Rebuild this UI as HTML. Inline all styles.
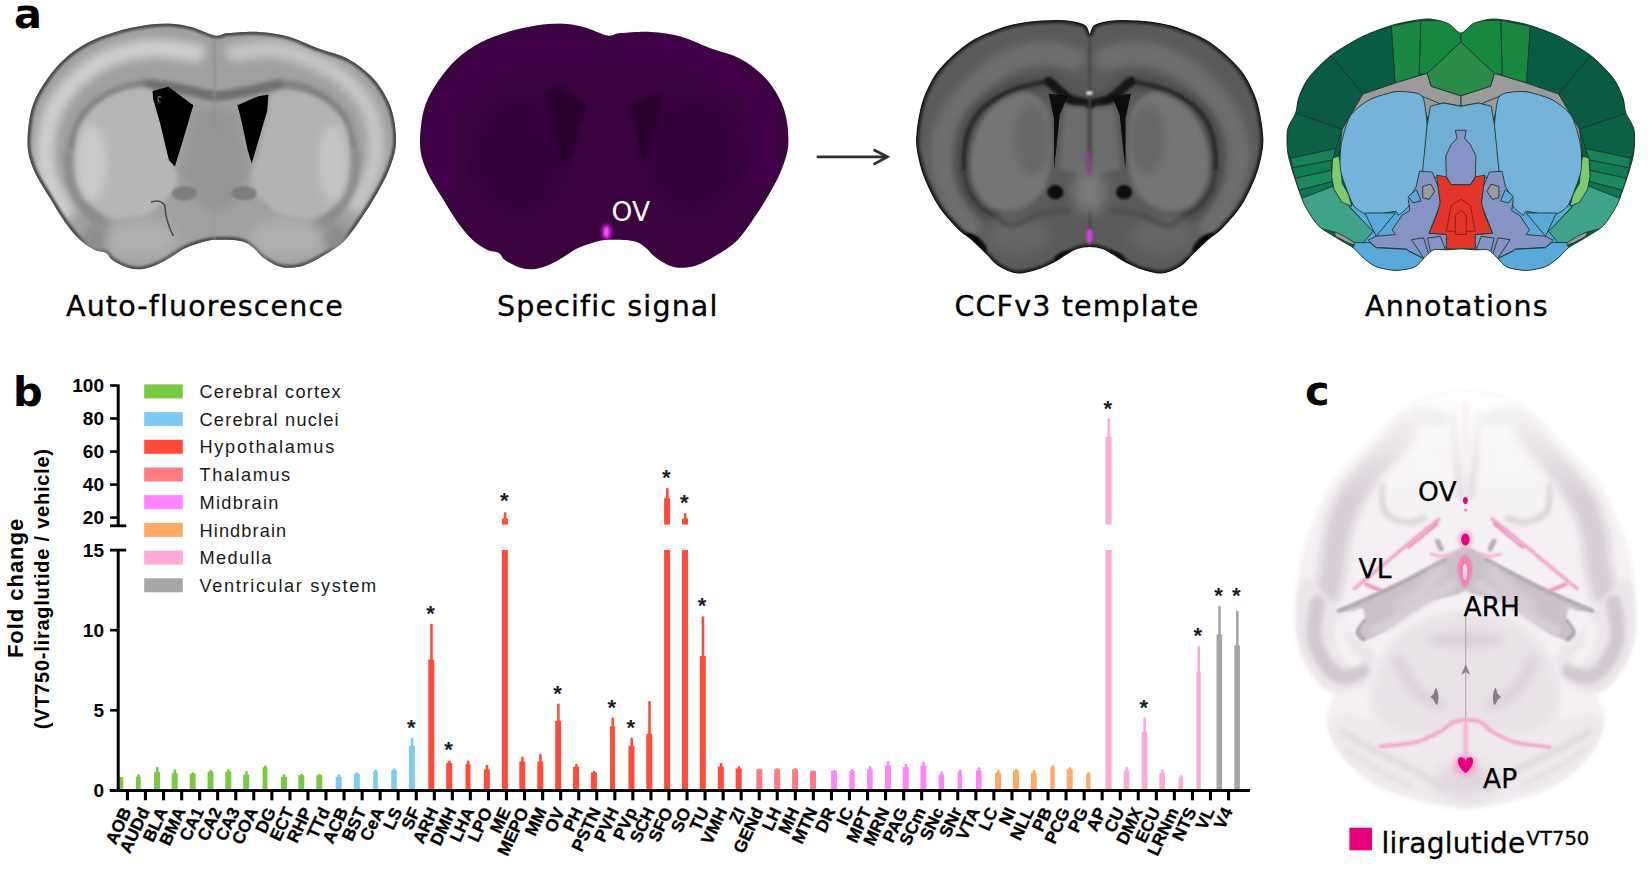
<!DOCTYPE html><html><head><meta charset="utf-8"><title>Figure</title><style>
html,body{margin:0;padding:0;background:#fff;}
body{width:1650px;height:873px;overflow:hidden;position:relative;}
svg{position:absolute;left:0;top:0;}
text{font-family:"Liberation Sans",Arial,sans-serif;fill:#000;}
.dv{font-family:"DejaVu Sans","Liberation Sans",sans-serif;}
.pl{font-family:"DejaVu Sans","Liberation Sans",sans-serif;font-weight:bold;font-size:41.5px;}
.cap{font-family:"DejaVu Sans","Liberation Sans",sans-serif;font-size:28.5px;letter-spacing:1.15px;stroke:#000;stroke-width:0.35px;}
.ann{font-family:"DejaVu Sans","Liberation Sans",sans-serif;font-size:26.5px;stroke:#000;stroke-width:0.25px;}
.yt{font-weight:bold;font-size:19px;text-anchor:end;}
.xl{font-weight:bold;font-size:17.3px;text-anchor:end;stroke:#000;stroke-width:0.3px;}
.st{font-size:22px;font-weight:bold;text-anchor:middle;fill:#1c1c1c;}
.lg{font-size:18.2px;letter-spacing:1.1px;fill:#1a1a1a;}
.yl1{font-weight:bold;font-size:22px;letter-spacing:0.97px;text-anchor:middle;}
.yl2{font-weight:bold;font-size:20px;letter-spacing:0.76px;text-anchor:middle;}
</style></head><body>
<svg width="1650" height="873" viewBox="0 0 1650 873">
<defs>
<filter id="b1" filterUnits="userSpaceOnUse" x="-200" y="-200" width="2400" height="1600"><feGaussianBlur stdDeviation="1.2"/></filter>
<filter id="b4" filterUnits="userSpaceOnUse" x="-200" y="-200" width="2400" height="1600"><feGaussianBlur stdDeviation="4"/></filter>
<filter id="b8" filterUnits="userSpaceOnUse" x="-200" y="-200" width="2400" height="1600"><feGaussianBlur stdDeviation="8"/></filter>
<filter id="b14" filterUnits="userSpaceOnUse" x="-200" y="-200" width="2400" height="1600"><feGaussianBlur stdDeviation="14"/></filter>
<filter id="b22" filterUnits="userSpaceOnUse" x="-200" y="-200" width="2400" height="1600"><feGaussianBlur stdDeviation="22"/></filter>
<filter id="fc1" filterUnits="userSpaceOnUse" x="-200" y="-200" width="2400" height="1600"><feGaussianBlur stdDeviation="0.6"/></filter>
<filter id="fc2" filterUnits="userSpaceOnUse" x="-200" y="-200" width="2400" height="1600"><feGaussianBlur stdDeviation="1.2"/></filter>
<filter id="fc3" filterUnits="userSpaceOnUse" x="-200" y="-200" width="2400" height="1600"><feGaussianBlur stdDeviation="2.5"/></filter>
<filter id="fc5" filterUnits="userSpaceOnUse" x="-200" y="-200" width="2400" height="1600"><feGaussianBlur stdDeviation="5"/></filter>
<filter id="fc6" filterUnits="userSpaceOnUse" x="-200" y="-200" width="2400" height="1600"><feGaussianBlur stdDeviation="7"/></filter>
</defs>
<g transform="translate(20,20) scale(0.29784)">
<clipPath id="c1"><path d="M655.0,52.0C675.0,55.2 675.8,46.0 700.0,44.0C724.2,42.0 766.7,38.2 800.0,40.0C833.3,41.8 866.7,45.8 900.0,55.0C933.3,64.2 966.7,82.5 1000.0,95.0C1033.3,107.5 1070.0,114.2 1100.0,130.0C1130.0,145.8 1158.3,168.3 1180.0,190.0C1201.7,211.7 1217.5,236.7 1230.0,260.0C1242.5,283.3 1249.7,303.3 1255.0,330.0C1260.3,356.7 1264.5,391.7 1262.0,420.0C1259.5,448.3 1250.3,473.3 1240.0,500.0C1229.7,526.7 1215.0,553.3 1200.0,580.0C1185.0,606.7 1168.3,633.3 1150.0,660.0C1131.7,686.7 1111.7,718.3 1090.0,740.0C1068.3,761.7 1043.3,775.8 1020.0,790.0C996.7,804.2 973.3,818.3 950.0,825.0C926.7,831.7 901.7,834.2 880.0,830.0C858.3,825.8 836.7,811.3 820.0,800.0C803.3,788.7 793.3,771.7 780.0,762.0C766.7,752.3 760.0,746.0 740.0,742.0C720.0,738.0 680.0,737.7 660.0,738.0C640.0,738.3 636.7,739.7 620.0,744.0C603.3,748.3 576.7,756.8 560.0,764.0C543.3,771.2 535.0,778.2 520.0,787.0C505.0,795.8 488.3,808.7 470.0,817.0C451.7,825.3 428.3,834.7 410.0,837.0C391.7,839.3 376.7,836.2 360.0,831.0C343.3,825.8 321.7,814.2 310.0,806.0C298.3,797.8 300.0,787.8 290.0,782.0C280.0,776.2 265.0,778.5 250.0,771.0C235.0,763.5 216.7,752.7 200.0,737.0C183.3,721.3 166.7,700.3 150.0,677.0C133.3,653.7 116.7,624.5 100.0,597.0C83.3,569.5 62.2,538.2 50.0,512.0C37.8,485.8 30.7,465.3 27.0,440.0C23.3,414.7 25.0,386.7 28.0,360.0C31.0,333.3 34.7,306.7 45.0,280.0C55.3,253.3 72.5,225.0 90.0,200.0C107.5,175.0 126.7,150.8 150.0,130.0C173.3,109.2 201.7,90.0 230.0,75.0C258.3,60.0 288.3,49.5 320.0,40.0C351.7,30.5 390.0,22.7 420.0,18.0C450.0,13.3 473.3,10.8 500.0,12.0C526.7,13.2 554.2,18.3 580.0,25.0C605.8,31.7 635.0,48.8 655.0,52.0Z"/></clipPath>
<g clip-path="url(#c1)">
<rect x="0" y="0" width="1300" height="873" fill="#a0a0a0"/>
<path d="M150.0,640.0C141.7,623.3 110.8,575.0 100.0,540.0C89.2,505.0 82.5,470.0 85.0,430.0C87.5,390.0 95.8,340.0 115.0,300.0C134.2,260.0 165.8,220.0 200.0,190.0C234.2,160.0 278.3,135.8 320.0,120.0C361.7,104.2 405.0,96.7 450.0,95.0C495.0,93.3 566.7,107.5 590.0,110.0" fill="none" stroke="#cdcdcd" stroke-width="62" stroke-linecap="round" filter="url(#b14)"/>
<path d="M720.0,110.0C743.3,108.3 815.0,95.0 860.0,100.0C905.0,105.0 951.7,123.3 990.0,140.0C1028.3,156.7 1060.8,175.0 1090.0,200.0C1119.2,225.0 1147.5,256.7 1165.0,290.0C1182.5,323.3 1192.5,361.7 1195.0,400.0C1197.5,438.3 1190.8,483.3 1180.0,520.0C1169.2,556.7 1138.3,603.3 1130.0,620.0" fill="none" stroke="#c4c4c4" stroke-width="56" stroke-linecap="round" filter="url(#b14)"/>
<path d="M655.0,52.0C675.0,55.2 675.8,46.0 700.0,44.0C724.2,42.0 766.7,38.2 800.0,40.0C833.3,41.8 866.7,45.8 900.0,55.0C933.3,64.2 966.7,82.5 1000.0,95.0C1033.3,107.5 1070.0,114.2 1100.0,130.0C1130.0,145.8 1158.3,168.3 1180.0,190.0C1201.7,211.7 1217.5,236.7 1230.0,260.0C1242.5,283.3 1249.7,303.3 1255.0,330.0C1260.3,356.7 1264.5,391.7 1262.0,420.0C1259.5,448.3 1250.3,473.3 1240.0,500.0C1229.7,526.7 1215.0,553.3 1200.0,580.0C1185.0,606.7 1168.3,633.3 1150.0,660.0C1131.7,686.7 1111.7,718.3 1090.0,740.0C1068.3,761.7 1043.3,775.8 1020.0,790.0C996.7,804.2 973.3,818.3 950.0,825.0C926.7,831.7 901.7,834.2 880.0,830.0C858.3,825.8 836.7,811.3 820.0,800.0C803.3,788.7 793.3,771.7 780.0,762.0C766.7,752.3 760.0,746.0 740.0,742.0C720.0,738.0 680.0,737.7 660.0,738.0C640.0,738.3 636.7,739.7 620.0,744.0C603.3,748.3 576.7,756.8 560.0,764.0C543.3,771.2 535.0,778.2 520.0,787.0C505.0,795.8 488.3,808.7 470.0,817.0C451.7,825.3 428.3,834.7 410.0,837.0C391.7,839.3 376.7,836.2 360.0,831.0C343.3,825.8 321.7,814.2 310.0,806.0C298.3,797.8 300.0,787.8 290.0,782.0C280.0,776.2 265.0,778.5 250.0,771.0C235.0,763.5 216.7,752.7 200.0,737.0C183.3,721.3 166.7,700.3 150.0,677.0C133.3,653.7 116.7,624.5 100.0,597.0C83.3,569.5 62.2,538.2 50.0,512.0C37.8,485.8 30.7,465.3 27.0,440.0C23.3,414.7 25.0,386.7 28.0,360.0C31.0,333.3 34.7,306.7 45.0,280.0C55.3,253.3 72.5,225.0 90.0,200.0C107.5,175.0 126.7,150.8 150.0,130.0C173.3,109.2 201.7,90.0 230.0,75.0C258.3,60.0 288.3,49.5 320.0,40.0C351.7,30.5 390.0,22.7 420.0,18.0C450.0,13.3 473.3,10.8 500.0,12.0C526.7,13.2 554.2,18.3 580.0,25.0C605.8,31.7 635.0,48.8 655.0,52.0Z" fill="none" stroke="#4c4c4c" stroke-width="20" filter="url(#b4)"/>
<path d="M170.0,440.0C176.7,420.8 188.3,356.3 210.0,325.0C231.7,293.7 265.0,270.3 300.0,252.0C335.0,233.7 376.7,217.8 420.0,215.0C463.3,212.2 520.8,228.3 560.0,235.0C599.2,241.7 621.7,254.2 655.0,255.0C688.3,255.8 722.5,246.7 760.0,240.0C797.5,233.3 840.0,213.3 880.0,215.0C920.0,216.7 965.8,231.7 1000.0,250.0C1034.2,268.3 1065.0,293.3 1085.0,325.0C1105.0,356.7 1114.2,420.8 1120.0,440.0" fill="none" stroke="#828282" stroke-width="30" filter="url(#b8)"/>
<path d="M420.0,215.0C443.3,218.3 520.8,228.3 560.0,235.0C599.2,241.7 621.7,254.2 655.0,255.0C688.3,255.8 722.5,246.7 760.0,240.0C797.5,233.3 860.0,219.2 880.0,215.0" fill="none" stroke="#6e6e6e" stroke-width="26" filter="url(#b8)"/>
<path d="M165.0,440.0C168.3,460.0 170.8,523.3 185.0,560.0C199.2,596.7 224.2,631.7 250.0,660.0C275.8,688.3 310.0,713.3 340.0,730.0C370.0,746.7 415.0,755.0 430.0,760.0" fill="none" stroke="#8c8c8c" stroke-width="44" filter="url(#b8)"/>
<path d="M1125.0,440.0C1121.7,460.0 1119.2,523.3 1105.0,560.0C1090.8,596.7 1065.8,631.7 1040.0,660.0C1014.2,688.3 980.0,713.3 950.0,730.0C920.0,746.7 875.0,755.0 860.0,760.0" fill="none" stroke="#8c8c8c" stroke-width="44" filter="url(#b8)"/>
<path d="M185.0,470.0C185.3,436.7 185.8,392.5 200.0,360.0C214.2,327.5 241.7,296.3 270.0,275.0C298.3,253.7 340.0,237.8 370.0,232.0C400.0,226.2 431.7,223.7 450.0,240.0C468.3,256.3 471.7,295.0 480.0,330.0C488.3,365.0 491.7,415.0 500.0,450.0C508.3,485.0 534.2,512.5 530.0,540.0C525.8,567.5 493.3,595.8 475.0,615.0C456.7,634.2 444.2,646.2 420.0,655.0C395.8,663.8 358.3,672.2 330.0,668.0C301.7,663.8 272.0,648.0 250.0,630.0C228.0,612.0 208.8,586.7 198.0,560.0C187.2,533.3 184.7,503.3 185.0,470.0Z" fill="#b6b6b6" filter="url(#b8)"/>
<path d="M1105.0,470.0C1105.0,436.7 1107.5,391.7 1095.0,360.0C1082.5,328.3 1057.5,300.0 1030.0,280.0C1002.5,260.0 960.0,245.0 930.0,240.0C900.0,235.0 867.5,235.0 850.0,250.0C832.5,265.0 833.3,296.7 825.0,330.0C816.7,363.3 809.2,415.0 800.0,450.0C790.8,485.0 765.8,512.5 770.0,540.0C774.2,567.5 806.7,595.8 825.0,615.0C843.3,634.2 855.8,646.2 880.0,655.0C904.2,663.8 941.7,672.2 970.0,668.0C998.3,663.8 1029.2,648.0 1050.0,630.0C1070.8,612.0 1085.8,586.7 1095.0,560.0C1104.2,533.3 1105.0,503.3 1105.0,470.0Z" fill="#b2b2b2" filter="url(#b8)"/>
<ellipse cx="240" cy="480" rx="50" ry="130" fill="#cacaca" filter="url(#b14)"/>
<ellipse cx="1050" cy="480" rx="50" ry="130" fill="#c4c4c4" filter="url(#b14)"/>
<ellipse cx="400" cy="735" rx="130" ry="65" fill="#b0b0b0" filter="url(#b22)"/>
<ellipse cx="900" cy="735" rx="130" ry="65" fill="#b0b0b0" filter="url(#b22)"/>
<ellipse cx="250" cy="740" rx="40" ry="50" fill="#8c8c8c" filter="url(#b14)"/>
<ellipse cx="1060" cy="730" rx="40" ry="50" fill="#8c8c8c" filter="url(#b14)"/>
<path d="M585,300 L725,300 L770,520 L700,640 L620,640 L540,520 Z" fill="#959595" filter="url(#b14)"/>
<rect x="650" y="60" width="6" height="300" fill="#8c8c8c" filter="url(#b4)"/>
<rect x="651" y="360" width="4" height="380" fill="#999" filter="url(#b4)"/>
<ellipse cx="552" cy="582" rx="42" ry="24" fill="#7e7e7e" filter="url(#b4)"/>
<ellipse cx="752" cy="582" rx="42" ry="24" fill="#7e7e7e" filter="url(#b4)"/>
<path d="M445,238 L498,224 L582,286 L548,400 L520,492 L500,470 L470,345 L447,265 Z" fill="#050505" filter="url(#b1)"/>
<path d="M730,286 L800,256 L834,250 L830,305 L802,400 L778,482 L765,440 L745,345 Z" fill="#050505" filter="url(#b1)"/>
<path d="M462,262 q4,-8 12,-2 m-10,4 q-2,10 8,12" fill="none" stroke="#777" stroke-width="4"/>
<path d="M440,612 Q470,600 486,622 Q490,680 515,725" fill="none" stroke="#484848" stroke-width="5" filter="url(#b1)"/>
</g></g>
<g transform="translate(412.5,20) scale(0.29784)">
<g clip-path="url(#c1)">
<rect x="0" y="0" width="1300" height="873" fill="#3b0441"/>
<path d="M120.0,560.0C115.8,538.3 95.0,473.3 95.0,430.0C95.0,386.7 102.5,340.0 120.0,300.0C137.5,260.0 166.7,220.0 200.0,190.0C233.3,160.0 278.3,135.8 320.0,120.0C361.7,104.2 406.7,96.7 450.0,95.0C493.3,93.3 558.3,107.5 580.0,110.0" fill="none" stroke="#45064b" stroke-width="80" stroke-linecap="round" filter="url(#b22)"/>
<path d="M730.0,110.0C751.7,108.3 816.7,95.0 860.0,100.0C903.3,105.0 951.7,123.3 990.0,140.0C1028.3,156.7 1061.7,175.0 1090.0,200.0C1118.3,225.0 1143.3,256.7 1160.0,290.0C1176.7,323.3 1188.3,361.7 1190.0,400.0C1191.7,438.3 1173.3,500.0 1170.0,520.0" fill="none" stroke="#45064b" stroke-width="80" stroke-linecap="round" filter="url(#b22)"/>
<ellipse cx="360" cy="450" rx="170" ry="210" fill="#36033c" filter="url(#b22)"/>
<ellipse cx="940" cy="450" rx="170" ry="210" fill="#36033c" filter="url(#b22)"/>
<path d="M445,238 L498,224 L582,286 L548,400 L520,492 L500,470 L470,345 L447,265 Z" fill="#28022c" filter="url(#b8)"/>
<path d="M730,286 L800,256 L834,250 L830,305 L802,400 L778,482 L765,440 L745,345 Z" fill="#28022c" filter="url(#b8)"/>
<ellipse cx="652" cy="712" rx="16" ry="26" fill="#c81fd0" filter="url(#b8)"/>
<ellipse cx="651" cy="712" rx="8" ry="17" fill="#ff4cff" filter="url(#b4)"/>
</g></g>
<g transform="translate(900,20) scale(0.29784)">
<clipPath id="k3"><path d="M637.0,48.0C643.0,48.0 641.2,25.5 655.0,18.0C668.8,10.5 695.8,5.3 720.0,3.0C744.2,0.7 775.0,2.5 800.0,4.0C825.0,5.5 846.7,7.7 870.0,12.0C893.3,16.3 911.7,19.3 940.0,30.0C968.3,40.7 1006.7,53.3 1040.0,76.0C1073.3,98.7 1115.3,137.0 1140.0,166.0C1164.7,195.0 1176.7,224.3 1188.0,250.0C1199.3,275.7 1203.0,295.0 1208.0,320.0C1213.0,345.0 1217.2,378.3 1218.0,400.0C1218.8,421.7 1217.3,429.0 1213.0,450.0C1208.7,471.0 1203.8,496.7 1192.0,526.0C1180.2,555.3 1161.0,596.8 1142.0,626.0C1123.0,655.2 1096.3,682.3 1078.0,701.0C1059.7,719.7 1048.0,723.8 1032.0,738.0C1016.0,752.2 997.3,771.3 982.0,786.0C966.7,800.7 957.0,815.5 940.0,826.0C923.0,836.5 900.8,847.2 880.0,849.0C859.2,850.8 834.2,842.5 815.0,837.0C795.8,831.5 781.7,824.5 765.0,816.0C748.3,807.5 729.2,794.2 715.0,786.0C700.8,777.8 693.0,771.3 680.0,767.0C667.0,762.7 651.3,760.0 637.0,760.0C622.7,760.0 607.0,762.7 594.0,767.0C581.0,771.3 573.2,777.8 559.0,786.0C544.8,794.2 525.7,807.5 509.0,816.0C492.3,824.5 478.2,831.5 459.0,837.0C439.8,842.5 414.8,850.8 394.0,849.0C373.2,847.2 351.0,836.5 334.0,826.0C317.0,815.5 307.3,800.7 292.0,786.0C276.7,771.3 258.0,752.2 242.0,738.0C226.0,723.8 214.3,719.7 196.0,701.0C177.7,682.3 151.0,655.2 132.0,626.0C113.0,596.8 93.8,555.3 82.0,526.0C70.2,496.7 65.3,471.0 61.0,450.0C56.7,429.0 55.2,421.7 56.0,400.0C56.8,378.3 61.0,345.0 66.0,320.0C71.0,295.0 74.7,275.7 86.0,250.0C97.3,224.3 109.3,195.0 134.0,166.0C158.7,137.0 200.7,98.7 234.0,76.0C267.3,53.3 305.7,40.7 334.0,30.0C362.3,19.3 380.7,16.3 404.0,12.0C427.3,7.7 449.0,5.5 474.0,4.0C499.0,2.5 529.8,0.7 554.0,3.0C578.2,5.3 605.2,10.5 619.0,18.0C632.8,25.5 631.0,48.0 637.0,48.0Z"/></clipPath>
<g clip-path="url(#k3)">
<rect x="0" y="0" width="1300" height="873" fill="#5a5a5a"/>
<path d="M690.0,130.0C708.3,126.7 760.0,106.7 800.0,110.0C840.0,113.3 890.0,128.3 930.0,150.0C970.0,171.7 1009.2,206.7 1040.0,240.0C1070.8,273.3 1099.2,311.7 1115.0,350.0C1130.8,388.3 1137.5,430.0 1135.0,470.0C1132.5,510.0 1115.8,553.3 1100.0,590.0C1084.2,626.7 1050.0,673.3 1040.0,690.0" fill="none" stroke="#6f6d6e" stroke-width="80" stroke-linecap="round" filter="url(#b14)"/>
<path d="M584.0,130.0C565.7,126.7 514.0,106.7 474.0,110.0C434.0,113.3 384.0,128.3 344.0,150.0C304.0,171.7 264.8,206.7 234.0,240.0C203.2,273.3 174.8,311.7 159.0,350.0C143.2,388.3 136.5,430.0 139.0,470.0C141.5,510.0 158.2,553.3 174.0,590.0C189.8,626.7 224.0,673.3 234.0,690.0" fill="none" stroke="#6f6d6e" stroke-width="80" stroke-linecap="round" filter="url(#b14)"/>
<path d="M637.0,48.0C643.0,48.0 641.2,25.5 655.0,18.0C668.8,10.5 695.8,5.3 720.0,3.0C744.2,0.7 775.0,2.5 800.0,4.0C825.0,5.5 846.7,7.7 870.0,12.0C893.3,16.3 911.7,19.3 940.0,30.0C968.3,40.7 1006.7,53.3 1040.0,76.0C1073.3,98.7 1115.3,137.0 1140.0,166.0C1164.7,195.0 1176.7,224.3 1188.0,250.0C1199.3,275.7 1203.0,295.0 1208.0,320.0C1213.0,345.0 1217.2,378.3 1218.0,400.0C1218.8,421.7 1217.3,429.0 1213.0,450.0C1208.7,471.0 1203.8,496.7 1192.0,526.0C1180.2,555.3 1161.0,596.8 1142.0,626.0C1123.0,655.2 1096.3,682.3 1078.0,701.0C1059.7,719.7 1048.0,723.8 1032.0,738.0C1016.0,752.2 997.3,771.3 982.0,786.0C966.7,800.7 957.0,815.5 940.0,826.0C923.0,836.5 900.8,847.2 880.0,849.0C859.2,850.8 834.2,842.5 815.0,837.0C795.8,831.5 781.7,824.5 765.0,816.0C748.3,807.5 729.2,794.2 715.0,786.0C700.8,777.8 693.0,771.3 680.0,767.0C667.0,762.7 651.3,760.0 637.0,760.0C622.7,760.0 607.0,762.7 594.0,767.0C581.0,771.3 573.2,777.8 559.0,786.0C544.8,794.2 525.7,807.5 509.0,816.0C492.3,824.5 478.2,831.5 459.0,837.0C439.8,842.5 414.8,850.8 394.0,849.0C373.2,847.2 351.0,836.5 334.0,826.0C317.0,815.5 307.3,800.7 292.0,786.0C276.7,771.3 258.0,752.2 242.0,738.0C226.0,723.8 214.3,719.7 196.0,701.0C177.7,682.3 151.0,655.2 132.0,626.0C113.0,596.8 93.8,555.3 82.0,526.0C70.2,496.7 65.3,471.0 61.0,450.0C56.7,429.0 55.2,421.7 56.0,400.0C56.8,378.3 61.0,345.0 66.0,320.0C71.0,295.0 74.7,275.7 86.0,250.0C97.3,224.3 109.3,195.0 134.0,166.0C158.7,137.0 200.7,98.7 234.0,76.0C267.3,53.3 305.7,40.7 334.0,30.0C362.3,19.3 380.7,16.3 404.0,12.0C427.3,7.7 449.0,5.5 474.0,4.0C499.0,2.5 529.8,0.7 554.0,3.0C578.2,5.3 605.2,10.5 619.0,18.0C632.8,25.5 631.0,48.0 637.0,48.0Z" fill="none" stroke="#262626" stroke-width="18" filter="url(#b4)"/>
<path d="M637.0,278.0C650.0,275.0 693.7,271.0 715.0,260.0C736.3,249.0 748.3,219.8 765.0,212.0C781.7,204.2 794.2,209.5 815.0,213.0C835.8,216.5 865.8,223.8 890.0,233.0C914.2,242.2 939.2,253.8 960.0,268.0C980.8,282.2 1000.8,300.2 1015.0,318.0C1029.2,335.8 1037.8,354.7 1045.0,375.0C1052.2,395.3 1055.5,418.3 1058.0,440.0C1060.5,461.7 1062.2,483.3 1060.0,505.0C1057.8,526.7 1055.0,549.2 1045.0,570.0C1035.0,590.8 1015.8,615.0 1000.0,630.0C984.2,645.0 958.3,655.0 950.0,660.0" fill="none" stroke="#4a4a4a" stroke-width="50" filter="url(#b14)"/>
<path d="M637.0,278.0C650.0,275.0 693.7,271.0 715.0,260.0C736.3,249.0 748.3,219.8 765.0,212.0C781.7,204.2 794.2,209.5 815.0,213.0C835.8,216.5 865.8,223.8 890.0,233.0C914.2,242.2 939.2,253.8 960.0,268.0C980.8,282.2 1000.8,300.2 1015.0,318.0C1029.2,335.8 1037.8,354.7 1045.0,375.0C1052.2,395.3 1055.5,418.3 1058.0,440.0C1060.5,461.7 1059.7,494.2 1060.0,505.0" fill="none" stroke="#2b2b2b" stroke-width="15" filter="url(#b4)"/>
<path d="M1060.0,505.0C1057.5,515.8 1055.0,549.2 1045.0,570.0C1035.0,590.8 1015.8,615.0 1000.0,630.0C984.2,645.0 958.3,655.0 950.0,660.0" fill="none" stroke="#3a3a3a" stroke-width="10" filter="url(#b4)"/>
<path d="M637.0,282.0C647.5,279.7 682.0,276.3 700.0,268.0C718.0,259.7 732.5,242.3 745.0,232.0C757.5,221.7 770.0,210.3 775.0,206.0" fill="none" stroke="#161616" stroke-width="30" stroke-linecap="round" filter="url(#b4)"/>
<path d="M785.0,290.0C798.3,272.0 824.2,244.5 850.0,242.0C875.8,239.5 915.0,258.7 940.0,275.0C965.0,291.3 984.2,312.5 1000.0,340.0C1015.8,367.5 1030.0,405.0 1035.0,440.0C1040.0,475.0 1040.8,518.3 1030.0,550.0C1019.2,581.7 996.7,615.8 970.0,630.0C943.3,644.2 900.0,645.0 870.0,635.0C840.0,625.0 807.5,600.8 790.0,570.0C772.5,539.2 768.3,486.7 765.0,450.0C761.7,413.3 766.7,376.7 770.0,350.0C773.3,323.3 771.7,308.0 785.0,290.0Z" fill="#747474" filter="url(#b8)"/>
<ellipse cx="830" cy="400" rx="60" ry="120" fill="#686868" filter="url(#b14)"/>
<path d="M645,290 L720,290 L740,500 L645,520 Z" fill="#6c6c6c" filter="url(#b8)"/>
<path d="M712,255 L775,248 L757,330 L757,500 L748,420 L738,320 Z" fill="#080808" filter="url(#b1)"/>
<ellipse cx="752" cy="578" rx="27" ry="24" fill="#0c0c0c" filter="url(#b4)"/>
<ellipse cx="1020" cy="748" rx="46" ry="20" fill="#060606" filter="url(#b4)" transform="rotate(-38 1020 748)"/>
<ellipse cx="728" cy="790" rx="30" ry="11" fill="#0a0a0a" filter="url(#b4)" transform="rotate(25 728 790)"/>
<ellipse cx="880" cy="725" rx="110" ry="60" fill="#666" filter="url(#b22)"/>
<path d="M700.0,640.0C716.7,641.7 766.7,641.7 800.0,650.0C833.3,658.3 873.3,690.0 900.0,690.0C926.7,690.0 950.0,656.7 960.0,650.0" fill="none" stroke="#4a4a4a" stroke-width="14" filter="url(#b8)"/>
<path d="M637.0,278.0C624.0,275.0 580.3,271.0 559.0,260.0C537.7,249.0 525.7,219.8 509.0,212.0C492.3,204.2 479.8,209.5 459.0,213.0C438.2,216.5 408.2,223.8 384.0,233.0C359.8,242.2 334.8,253.8 314.0,268.0C293.2,282.2 273.2,300.2 259.0,318.0C244.8,335.8 236.2,354.7 229.0,375.0C221.8,395.3 218.5,418.3 216.0,440.0C213.5,461.7 211.8,483.3 214.0,505.0C216.2,526.7 219.0,549.2 229.0,570.0C239.0,590.8 258.2,615.0 274.0,630.0C289.8,645.0 315.7,655.0 324.0,660.0" fill="none" stroke="#4a4a4a" stroke-width="50" filter="url(#b14)"/>
<path d="M637.0,278.0C624.0,275.0 580.3,271.0 559.0,260.0C537.7,249.0 525.7,219.8 509.0,212.0C492.3,204.2 479.8,209.5 459.0,213.0C438.2,216.5 408.2,223.8 384.0,233.0C359.8,242.2 334.8,253.8 314.0,268.0C293.2,282.2 273.2,300.2 259.0,318.0C244.8,335.8 236.2,354.7 229.0,375.0C221.8,395.3 218.5,418.3 216.0,440.0C213.5,461.7 214.3,494.2 214.0,505.0" fill="none" stroke="#2b2b2b" stroke-width="15" filter="url(#b4)"/>
<path d="M214.0,505.0C216.5,515.8 219.0,549.2 229.0,570.0C239.0,590.8 258.2,615.0 274.0,630.0C289.8,645.0 315.7,655.0 324.0,660.0" fill="none" stroke="#3a3a3a" stroke-width="10" filter="url(#b4)"/>
<path d="M637.0,282.0C626.5,279.7 592.0,276.3 574.0,268.0C556.0,259.7 541.5,242.3 529.0,232.0C516.5,221.7 504.0,210.3 499.0,206.0" fill="none" stroke="#161616" stroke-width="30" stroke-linecap="round" filter="url(#b4)"/>
<path d="M489.0,290.0C475.7,272.0 449.8,244.5 424.0,242.0C398.2,239.5 359.0,258.7 334.0,275.0C309.0,291.3 289.8,312.5 274.0,340.0C258.2,367.5 244.0,405.0 239.0,440.0C234.0,475.0 233.2,518.3 244.0,550.0C254.8,581.7 277.3,615.8 304.0,630.0C330.7,644.2 374.0,645.0 404.0,635.0C434.0,625.0 466.5,600.8 484.0,570.0C501.5,539.2 505.7,486.7 509.0,450.0C512.3,413.3 507.3,376.7 504.0,350.0C500.7,323.3 502.3,308.0 489.0,290.0Z" fill="#747474" filter="url(#b8)"/>
<ellipse cx="444" cy="400" rx="60" ry="120" fill="#686868" filter="url(#b14)"/>
<path d="M629,290 L554,290 L534,500 L629,520 Z" fill="#6c6c6c" filter="url(#b8)"/>
<path d="M562,255 L499,248 L517,330 L517,500 L526,420 L536,320 Z" fill="#080808" filter="url(#b1)"/>
<ellipse cx="522" cy="578" rx="27" ry="24" fill="#0c0c0c" filter="url(#b4)"/>
<ellipse cx="254" cy="748" rx="46" ry="20" fill="#060606" filter="url(#b4)" transform="rotate(38 254 748)"/>
<ellipse cx="546" cy="790" rx="30" ry="11" fill="#0a0a0a" filter="url(#b4)" transform="rotate(-25 546 790)"/>
<ellipse cx="394" cy="725" rx="110" ry="60" fill="#666" filter="url(#b22)"/>
<path d="M574.0,640.0C557.3,641.7 507.3,641.7 474.0,650.0C440.7,658.3 400.7,690.0 374.0,690.0C347.3,690.0 324.0,656.7 314.0,650.0" fill="none" stroke="#4a4a4a" stroke-width="14" filter="url(#b8)"/>
<rect x="633" y="40" width="8" height="740" fill="#444" filter="url(#b4)"/>
<ellipse cx="637" cy="575" rx="55" ry="75" fill="#7a7a7a" filter="url(#b22)"/>
<ellipse cx="636" cy="245" rx="11" ry="7" fill="#ddd" filter="url(#b4)"/>
<ellipse cx="634" cy="480" rx="9" ry="45" fill="#9a3ca0" opacity=".75" filter="url(#b8)"/>
<ellipse cx="636" cy="726" rx="10" ry="26" fill="#e23ce8" filter="url(#b4)"/>
</g>
<path d="M637.0,48.0C643.0,48.0 641.2,25.5 655.0,18.0C668.8,10.5 695.8,5.3 720.0,3.0C744.2,0.7 775.0,2.5 800.0,4.0C825.0,5.5 846.7,7.7 870.0,12.0C893.3,16.3 911.7,19.3 940.0,30.0C968.3,40.7 1006.7,53.3 1040.0,76.0C1073.3,98.7 1115.3,137.0 1140.0,166.0C1164.7,195.0 1176.7,224.3 1188.0,250.0C1199.3,275.7 1203.0,295.0 1208.0,320.0C1213.0,345.0 1217.2,378.3 1218.0,400.0C1218.8,421.7 1217.3,429.0 1213.0,450.0C1208.7,471.0 1203.8,496.7 1192.0,526.0C1180.2,555.3 1161.0,596.8 1142.0,626.0C1123.0,655.2 1096.3,682.3 1078.0,701.0C1059.7,719.7 1048.0,723.8 1032.0,738.0C1016.0,752.2 997.3,771.3 982.0,786.0C966.7,800.7 957.0,815.5 940.0,826.0C923.0,836.5 900.8,847.2 880.0,849.0C859.2,850.8 834.2,842.5 815.0,837.0C795.8,831.5 781.7,824.5 765.0,816.0C748.3,807.5 729.2,794.2 715.0,786.0C700.8,777.8 693.0,771.3 680.0,767.0C667.0,762.7 651.3,760.0 637.0,760.0C622.7,760.0 607.0,762.7 594.0,767.0C581.0,771.3 573.2,777.8 559.0,786.0C544.8,794.2 525.7,807.5 509.0,816.0C492.3,824.5 478.2,831.5 459.0,837.0C439.8,842.5 414.8,850.8 394.0,849.0C373.2,847.2 351.0,836.5 334.0,826.0C317.0,815.5 307.3,800.7 292.0,786.0C276.7,771.3 258.0,752.2 242.0,738.0C226.0,723.8 214.3,719.7 196.0,701.0C177.7,682.3 151.0,655.2 132.0,626.0C113.0,596.8 93.8,555.3 82.0,526.0C70.2,496.7 65.3,471.0 61.0,450.0C56.7,429.0 55.2,421.7 56.0,400.0C56.8,378.3 61.0,345.0 66.0,320.0C71.0,295.0 74.7,275.7 86.0,250.0C97.3,224.3 109.3,195.0 134.0,166.0C158.7,137.0 200.7,98.7 234.0,76.0C267.3,53.3 305.7,40.7 334.0,30.0C362.3,19.3 380.7,16.3 404.0,12.0C427.3,7.7 449.0,5.5 474.0,4.0C499.0,2.5 529.8,0.7 554.0,3.0C578.2,5.3 605.2,10.5 619.0,18.0C632.8,25.5 631.0,48.0 637.0,48.0Z" fill="none" stroke="#151515" stroke-width="4"/>
</g>
<g transform="translate(1270,10) scale(0.32068)" stroke="#1b382f" stroke-width="2.8" stroke-linejoin="round">
<clipPath id="c4"><path d="M595.0,72.0C605.7,72.0 621.0,47.9 635.0,42.0C649.0,36.1 678.0,27.6 700.0,28.0C722.0,28.4 773.3,37.8 800.0,45.0C826.7,52.2 873.3,69.1 900.0,82.0C926.7,94.9 977.3,124.7 1000.0,142.0C1022.7,159.3 1056.7,194.7 1070.0,212.0C1083.3,229.3 1094.7,257.3 1100.0,272.0C1105.3,286.7 1105.3,308.7 1110.0,322.0C1114.7,335.3 1131.7,356.0 1135.0,372.0C1138.3,388.0 1137.0,424.7 1135.0,442.0C1133.0,459.3 1124.7,486.0 1120.0,502.0C1115.3,518.0 1105.3,547.3 1100.0,562.0C1094.7,576.7 1088.0,597.3 1080.0,612.0C1072.0,626.7 1053.3,658.7 1040.0,672.0C1026.7,685.3 994.7,702.7 980.0,712.0C965.3,721.3 940.7,734.0 930.0,742.0C919.3,750.0 909.3,764.3 900.0,772.0C890.7,779.7 873.3,794.7 860.0,800.0C846.7,805.3 816.0,811.7 800.0,812.0C784.0,812.3 752.3,807.3 740.0,802.0C727.7,796.7 716.0,779.2 708.0,772.0C700.0,764.8 689.1,751.2 680.0,748.0C670.9,744.8 651.3,748.4 640.0,748.0C628.7,747.6 607.0,745.0 595.0,745.0C583.0,745.0 561.3,747.6 550.0,748.0C538.7,748.4 519.1,744.8 510.0,748.0C500.9,751.2 490.0,764.8 482.0,772.0C474.0,779.2 462.3,796.7 450.0,802.0C437.7,807.3 406.0,812.3 390.0,812.0C374.0,811.7 343.3,805.3 330.0,800.0C316.7,794.7 299.3,779.7 290.0,772.0C280.7,764.3 270.7,750.0 260.0,742.0C249.3,734.0 224.7,721.3 210.0,712.0C195.3,702.7 163.3,685.3 150.0,672.0C136.7,658.7 118.0,626.7 110.0,612.0C102.0,597.3 95.3,576.7 90.0,562.0C84.7,547.3 74.7,518.0 70.0,502.0C65.3,486.0 57.0,459.3 55.0,442.0C53.0,424.7 51.7,388.0 55.0,372.0C58.3,356.0 75.3,335.3 80.0,322.0C84.7,308.7 84.7,286.7 90.0,272.0C95.3,257.3 106.7,229.3 120.0,212.0C133.3,194.7 167.3,159.3 190.0,142.0C212.7,124.7 263.3,94.9 290.0,82.0C316.7,69.1 363.3,52.2 390.0,45.0C416.7,37.8 468.0,28.4 490.0,28.0C512.0,27.6 541.0,36.1 555.0,42.0C569.0,47.9 584.3,72.0 595.0,72.0Z"/></clipPath>
<g clip-path="url(#c4)">
<path d="M595.0,72.0C605.7,72.0 621.0,47.9 635.0,42.0C649.0,36.1 678.0,27.6 700.0,28.0C722.0,28.4 773.3,37.8 800.0,45.0C826.7,52.2 873.3,69.1 900.0,82.0C926.7,94.9 977.3,124.7 1000.0,142.0C1022.7,159.3 1056.7,194.7 1070.0,212.0C1083.3,229.3 1094.7,257.3 1100.0,272.0C1105.3,286.7 1105.3,308.7 1110.0,322.0C1114.7,335.3 1131.7,356.0 1135.0,372.0C1138.3,388.0 1137.0,424.7 1135.0,442.0C1133.0,459.3 1124.7,486.0 1120.0,502.0C1115.3,518.0 1105.3,547.3 1100.0,562.0C1094.7,576.7 1088.0,597.3 1080.0,612.0C1072.0,626.7 1053.3,658.7 1040.0,672.0C1026.7,685.3 994.7,702.7 980.0,712.0C965.3,721.3 940.7,734.0 930.0,742.0C919.3,750.0 909.3,764.3 900.0,772.0C890.7,779.7 873.3,794.7 860.0,800.0C846.7,805.3 816.0,811.7 800.0,812.0C784.0,812.3 752.3,807.3 740.0,802.0C727.7,796.7 716.0,779.2 708.0,772.0C700.0,764.8 689.1,751.2 680.0,748.0C670.9,744.8 651.3,748.4 640.0,748.0C628.7,747.6 607.0,745.0 595.0,745.0C583.0,745.0 561.3,747.6 550.0,748.0C538.7,748.4 519.1,744.8 510.0,748.0C500.9,751.2 490.0,764.8 482.0,772.0C474.0,779.2 462.3,796.7 450.0,802.0C437.7,807.3 406.0,812.3 390.0,812.0C374.0,811.7 343.3,805.3 330.0,800.0C316.7,794.7 299.3,779.7 290.0,772.0C280.7,764.3 270.7,750.0 260.0,742.0C249.3,734.0 224.7,721.3 210.0,712.0C195.3,702.7 163.3,685.3 150.0,672.0C136.7,658.7 118.0,626.7 110.0,612.0C102.0,597.3 95.3,576.7 90.0,562.0C84.7,547.3 74.7,518.0 70.0,502.0C65.3,486.0 57.0,459.3 55.0,442.0C53.0,424.7 51.7,388.0 55.0,372.0C58.3,356.0 75.3,335.3 80.0,322.0C84.7,308.7 84.7,286.7 90.0,272.0C95.3,257.3 106.7,229.3 120.0,212.0C133.3,194.7 167.3,159.3 190.0,142.0C212.7,124.7 263.3,94.9 290.0,82.0C316.7,69.1 363.3,52.2 390.0,45.0C416.7,37.8 468.0,28.4 490.0,28.0C512.0,27.6 541.0,36.1 555.0,42.0C569.0,47.9 584.3,72.0 595.0,72.0Z" fill="#0b5e45"/>
<path d="M595.0,68.0L630.0,33.0L720.0,33.0L725.0,200.0L700.0,200.0L595.0,100.0Z" fill="#17883f" />
<path d="M595.0,68.0L560.0,33.0L470.0,33.0L465.0,200.0L490.0,200.0L595.0,100.0Z" fill="#17883f" />
<path d="M720.0,33.0L812.0,50.0L800.0,228.0L725.0,205.0Z" fill="#1a8742" />
<path d="M470.0,33.0L378.0,50.0L390.0,228.0L465.0,205.0Z" fill="#1a8742" />
<path d="M595.0,100.0L700.0,198.0L688.0,238.0L595.0,268.0L502.0,238.0L490.0,198.0Z" fill="#2b8b47"/>
<path d="M812.0,50.0L905.0,82.0L1000.0,142.0L900.0,262.0L800.0,228.0Z" fill="#0a5d45" />
<path d="M378.0,50.0L285.0,82.0L190.0,142.0L290.0,262.0L390.0,228.0Z" fill="#0a5d45" />
<path d="M1000.0,142.0L1070.0,212.0L1100.0,272.0L1110.0,322.0L965.0,372.0L900.0,262.0Z" fill="#0b5b44" />
<path d="M190.0,142.0L120.0,212.0L90.0,272.0L80.0,322.0L225.0,372.0L290.0,262.0Z" fill="#0b5b44" />
<path d="M1110.0,322.0L1135.0,372.0L1135.0,442.0L1125.0,462.0L985.0,432.0L965.0,372.0Z" fill="#0d6147" />
<path d="M80.0,322.0L55.0,372.0L55.0,442.0L65.0,462.0L205.0,432.0L225.0,372.0Z" fill="#0d6147" />
<path d="M985.0,432.0L1125.0,462.0L1120.0,492.0L995.0,468.0Z" fill="#17835b" />
<path d="M205.0,432.0L65.0,462.0L70.0,492.0L195.0,468.0Z" fill="#17835b" />
<path d="M995.0,468.0L1120.0,492.0L1112.0,525.0L998.0,500.0Z" fill="#127a54" />
<path d="M195.0,468.0L70.0,492.0L78.0,525.0L192.0,500.0Z" fill="#127a54" />
<path d="M998.0,500.0L1112.0,525.0L1100.0,562.0L995.0,535.0Z" fill="#1a8a5e" />
<path d="M192.0,500.0L78.0,525.0L90.0,562.0L195.0,535.0Z" fill="#1a8a5e" />
<path d="M995.0,535.0L1100.0,562.0L1085.0,600.0L990.0,560.0Z" fill="#107550" />
<path d="M195.0,535.0L90.0,562.0L105.0,600.0L200.0,560.0Z" fill="#107550" />
<path d="M221.2,625.4L466.2,502.9L526.2,505.4L551.2,745.4L496.2,775.4L466.2,800.4L351.2,815.4L301.2,780.4L281.2,735.4L321.2,690.4L251.2,615.4Z" fill="#5ba8da" stroke="none"/>
<path d="M968.8,625.4L723.8,502.9L663.8,505.4L638.8,745.4L693.8,775.4L723.8,800.4L838.8,815.4L888.8,780.4L908.8,735.4L868.8,690.4L938.8,615.4Z" fill="#5ba8da" stroke="none"/>
<path d="M91.2,590.4L196.2,549.4L236.2,555.4L243.7,605.4L251.2,617.9L321.2,690.4L281.2,737.9L201.2,692.9L146.2,677.9L106.2,630.4L91.2,590.4Z" fill="#3ea389" />
<path d="M1098.8,590.4L993.8,549.4L953.8,555.4L946.3,605.4L938.8,617.9L868.8,690.4L908.8,737.9L988.8,692.9L1043.8,677.9L1083.8,630.4L1098.8,590.4Z" fill="#3ea389" />
<path d="M201.2,691.4L231.2,705.4L271.2,730.4L281.2,739.4L241.2,725.4L203.7,705.4Z" fill="#9b9b9b" />
<path d="M988.8,691.4L958.8,705.4L918.8,730.4L908.8,739.4L948.8,725.4L986.3,705.4Z" fill="#9b9b9b" />
<path d="M975.0,455.0L995.0,462.0L998.0,520.0L990.0,560.0L965.0,600.0L935.0,612.0L945.0,575.0L965.0,540.0L968.0,490.0Z" fill="#7dcb6e" />
<path d="M215.0,455.0L195.0,462.0L192.0,520.0L200.0,560.0L225.0,600.0L255.0,612.0L245.0,575.0L225.0,540.0L222.0,490.0Z" fill="#7dcb6e" />
<path d="M595.0,268.0L688.0,238.0L700.0,198.0L725.0,205.0L800.0,228.0L900.0,262.0L965.0,372.0L975.0,455.0L940.0,330.0L880.0,280.0L800.0,255.0L740.0,258.0L712.0,275.0L690.0,300.0L650.0,290.0L595.0,300.0Z" fill="#9b9b9b" />
<path d="M595.0,268.0L502.0,238.0L490.0,198.0L465.0,205.0L390.0,228.0L290.0,262.0L225.0,372.0L215.0,455.0L250.0,330.0L310.0,280.0L390.0,255.0L450.0,258.0L478.0,275.0L500.0,300.0L540.0,290.0L595.0,300.0Z" fill="#9b9b9b" />
<path d="M721.0,267.0L664.0,290.0L694.0,352.0Z" fill="#9b9b9b" />
<path d="M469.0,267.0L526.0,290.0L496.0,352.0Z" fill="#9b9b9b" />
<path d="M712.0,275.0C716.7,263.1 729.7,260.3 740.0,258.0C750.3,255.7 783.7,252.4 800.0,255.0C816.3,257.6 863.7,271.2 880.0,280.0C896.3,288.8 929.7,313.7 940.0,330.0C950.3,346.3 964.5,400.2 968.0,420.0C971.5,439.8 972.7,481.9 970.0,500.0C967.3,518.1 950.2,561.6 945.0,575.0C939.8,588.4 932.6,607.4 925.0,615.0C917.4,622.6 894.6,638.5 880.0,640.0C865.4,641.5 810.5,628.0 800.0,628.0C789.5,628.0 794.7,641.5 790.0,640.0C785.3,638.5 765.2,621.4 760.0,615.0C754.8,608.6 749.7,596.1 745.0,585.0C740.3,573.9 724.7,533.4 720.0,520.0C715.3,506.6 707.3,488.7 705.0,470.0C702.7,451.3 699.2,382.8 700.0,360.0C700.8,337.2 707.3,286.9 712.0,275.0Z" fill="#74b3da"/>
<path d="M478.0,275.0C473.3,263.1 460.3,260.3 450.0,258.0C439.7,255.7 406.3,252.4 390.0,255.0C373.7,257.6 326.3,271.2 310.0,280.0C293.7,288.8 260.3,313.7 250.0,330.0C239.7,346.3 225.5,400.2 222.0,420.0C218.5,439.8 217.3,481.9 220.0,500.0C222.7,518.1 239.8,561.6 245.0,575.0C250.2,588.4 257.4,607.4 265.0,615.0C272.6,622.6 295.4,638.5 310.0,640.0C324.6,641.5 379.5,628.0 390.0,628.0C400.5,628.0 395.3,641.5 400.0,640.0C404.7,638.5 424.8,621.4 430.0,615.0C435.2,608.6 440.3,596.1 445.0,585.0C449.7,573.9 465.3,533.4 470.0,520.0C474.7,506.6 482.7,488.7 485.0,470.0C487.3,451.3 490.8,382.8 490.0,360.0C489.2,337.2 482.7,286.9 478.0,275.0Z" fill="#74b3da"/>
<path d="M500.0,300.0L540.0,290.0L595.0,300.0L650.0,290.0L690.0,300.0L700.0,360.0L712.0,480.0L716.0,522.0L474.0,522.0L478.0,480.0L490.0,360.0Z" fill="#70aed4"/>
<path d="M466.2,502.9L506.2,505.4L526.2,555.4L531.2,605.4L496.2,695.4L551.2,700.4L551.2,740.4L501.2,755.4L481.2,775.4L431.2,750.4L426.2,745.4L331.2,740.4L306.2,717.9L331.2,705.4L391.2,700.4L381.2,685.4L411.2,640.4L436.2,625.4L431.2,590.4L456.2,550.4Z" fill="#8593c5" />
<path d="M723.8,502.9L683.8,505.4L663.8,555.4L658.8,605.4L693.8,695.4L638.8,700.4L638.8,740.4L688.8,755.4L708.8,775.4L758.8,750.4L763.8,745.4L858.8,740.4L883.8,717.9L858.8,705.4L798.8,700.4L808.8,685.4L778.8,640.4L753.8,625.4L758.8,590.4L733.8,550.4Z" fill="#8593c5" />
<path d="M296.2,632.9L391.2,632.9L331.2,705.4Z" fill="#5ba8da" />
<path d="M893.8,632.9L798.8,632.9L858.8,705.4Z" fill="#5ba8da" />
<path d="M266.2,725.4L311.2,725.4L331.2,741.4L426.2,746.4L431.2,751.4L481.2,776.4L466.2,805.4L351.2,825.4L281.2,795.4L251.2,755.4Z" fill="#5ba8da" />
<path d="M923.8,725.4L878.8,725.4L858.8,741.4L763.8,746.4L758.8,751.4L708.8,776.4L723.8,805.4L838.8,825.4L908.8,795.4L938.8,755.4Z" fill="#5ba8da" />
<path d="M476.2,550.4L501.2,542.9L513.7,565.4L496.2,590.4L476.2,585.4Z" fill="#9b9b9b" />
<path d="M713.8,550.4L688.8,542.9L676.3,565.4L693.8,590.4L713.8,585.4Z" fill="#9b9b9b" />
<path d="M431.2,581.4L456.2,560.4L471.2,595.4L446.2,601.4Z" fill="#5ea9da" />
<path d="M758.8,581.4L733.8,560.4L718.8,595.4L743.8,601.4Z" fill="#5ea9da" />
<path d="M441.2,716.4L478.7,710.4L496.2,765.4L481.2,776.4Z" fill="#8593c5" />
<path d="M748.8,716.4L711.3,710.4L693.8,765.4L708.8,776.4Z" fill="#8593c5" />
<path d="M491.2,711.4L531.2,705.4L546.2,745.4L501.2,755.4Z" fill="#8593c5" />
<path d="M698.8,711.4L658.8,705.4L643.8,745.4L688.8,755.4Z" fill="#8593c5" />
<path d="M578.0,375.0L612.0,375.0L607.0,400.0L625.0,420.0L642.0,455.0L640.0,520.0L625.0,545.0L565.0,545.0L550.0,520.0L548.0,455.0L565.0,420.0L583.0,400.0Z" fill="#8593c5"/>
<path d="M520.0,515.0L548.0,520.0L565.0,545.0L625.0,545.0L642.0,520.0L670.0,515.0L665.0,560.0L659.0,600.0L670.0,640.0L694.0,696.0L640.0,700.0L640.0,745.0L550.0,745.0L550.0,700.0L496.0,696.0L520.0,640.0L531.0,600.0L525.0,560.0Z" fill="#e4352b"/>
<path d="M595.0,590.0L625.0,610.0L640.0,690.0L550.0,690.0L565.0,610.0Z" fill="#e4352b" stroke="#8a1a14"/>
<path d="M595.0,625.0L612.0,640.0L612.0,700.0L578.0,700.0L578.0,640.0Z" fill="#e4352b" stroke="#8a1a14"/>
</g>
<path d="M595.0,72.0C605.7,72.0 621.0,47.9 635.0,42.0C649.0,36.1 678.0,27.6 700.0,28.0C722.0,28.4 773.3,37.8 800.0,45.0C826.7,52.2 873.3,69.1 900.0,82.0C926.7,94.9 977.3,124.7 1000.0,142.0C1022.7,159.3 1056.7,194.7 1070.0,212.0C1083.3,229.3 1094.7,257.3 1100.0,272.0C1105.3,286.7 1105.3,308.7 1110.0,322.0C1114.7,335.3 1131.7,356.0 1135.0,372.0C1138.3,388.0 1137.0,424.7 1135.0,442.0C1133.0,459.3 1124.7,486.0 1120.0,502.0C1115.3,518.0 1105.3,547.3 1100.0,562.0C1094.7,576.7 1088.0,597.3 1080.0,612.0C1072.0,626.7 1053.3,658.7 1040.0,672.0C1026.7,685.3 994.7,702.7 980.0,712.0C965.3,721.3 940.7,734.0 930.0,742.0C919.3,750.0 909.3,764.3 900.0,772.0C890.7,779.7 873.3,794.7 860.0,800.0C846.7,805.3 816.0,811.7 800.0,812.0C784.0,812.3 752.3,807.3 740.0,802.0C727.7,796.7 716.0,779.2 708.0,772.0C700.0,764.8 689.1,751.2 680.0,748.0C670.9,744.8 651.3,748.4 640.0,748.0C628.7,747.6 607.0,745.0 595.0,745.0C583.0,745.0 561.3,747.6 550.0,748.0C538.7,748.4 519.1,744.8 510.0,748.0C500.9,751.2 490.0,764.8 482.0,772.0C474.0,779.2 462.3,796.7 450.0,802.0C437.7,807.3 406.0,812.3 390.0,812.0C374.0,811.7 343.3,805.3 330.0,800.0C316.7,794.7 299.3,779.7 290.0,772.0C280.7,764.3 270.7,750.0 260.0,742.0C249.3,734.0 224.7,721.3 210.0,712.0C195.3,702.7 163.3,685.3 150.0,672.0C136.7,658.7 118.0,626.7 110.0,612.0C102.0,597.3 95.3,576.7 90.0,562.0C84.7,547.3 74.7,518.0 70.0,502.0C65.3,486.0 57.0,459.3 55.0,442.0C53.0,424.7 51.7,388.0 55.0,372.0C58.3,356.0 75.3,335.3 80.0,322.0C84.7,308.7 84.7,286.7 90.0,272.0C95.3,257.3 106.7,229.3 120.0,212.0C133.3,194.7 167.3,159.3 190.0,142.0C212.7,124.7 263.3,94.9 290.0,82.0C316.7,69.1 363.3,52.2 390.0,45.0C416.7,37.8 468.0,28.4 490.0,28.0C512.0,27.6 541.0,36.1 555.0,42.0C569.0,47.9 584.3,72.0 595.0,72.0Z" fill="none" stroke="#1d3d33" stroke-width="3"/>
</g>
<g>
<clipPath id="kC"><path d="M1466.4,392.1C1454.9,392.1 1442.5,394.0 1431.1,397.6C1419.8,401.3 1409.3,405.8 1398.4,414.0C1387.4,422.2 1376.3,435.8 1365.6,446.8C1354.9,457.8 1342.8,467.5 1334.0,480.0C1325.2,492.5 1318.7,507.8 1313.0,522.0C1307.3,536.2 1303.0,550.3 1300.0,565.0C1297.0,579.7 1295.5,597.5 1295.0,610.0C1294.5,622.5 1295.3,630.8 1297.0,640.0C1298.7,649.2 1301.2,657.5 1305.0,665.0C1308.8,672.5 1315.2,679.8 1320.0,685.0C1324.8,690.2 1332.8,691.5 1334.0,696.0C1335.2,700.5 1327.7,705.5 1327.0,712.0C1326.3,718.5 1327.0,727.0 1330.0,735.0C1333.0,743.0 1337.5,751.7 1345.0,760.0C1352.5,768.3 1363.3,778.3 1375.0,785.0C1386.7,791.7 1400.0,796.0 1415.0,800.0C1430.0,804.0 1448.3,808.9 1465.2,808.9C1482.1,808.9 1501.2,804.0 1516.4,800.0C1531.6,796.0 1544.7,791.7 1556.4,785.0C1568.1,778.3 1578.9,768.3 1586.4,760.0C1593.9,751.7 1598.4,743.0 1601.4,735.0C1604.4,727.0 1605.1,718.5 1604.4,712.0C1603.7,705.5 1596.2,700.5 1597.4,696.0C1598.6,691.5 1606.6,690.2 1611.4,685.0C1616.2,679.8 1622.6,672.5 1626.4,665.0C1630.2,657.5 1632.7,649.2 1634.4,640.0C1636.1,630.8 1636.9,622.5 1636.4,610.0C1635.9,597.5 1634.4,579.7 1631.4,565.0C1628.4,550.3 1624.1,536.2 1618.4,522.0C1612.7,507.8 1606.2,492.5 1597.4,480.0C1588.6,467.5 1576.5,457.8 1565.8,446.8C1555.1,435.8 1544.0,422.2 1533.0,414.0C1522.1,405.8 1511.4,401.3 1500.3,397.6C1489.2,394.0 1477.9,392.1 1466.4,392.1Z"/></clipPath>
<path d="M1466.4,392.1C1454.9,392.1 1442.5,394.0 1431.1,397.6C1419.8,401.3 1409.3,405.8 1398.4,414.0C1387.4,422.2 1376.3,435.8 1365.6,446.8C1354.9,457.8 1342.8,467.5 1334.0,480.0C1325.2,492.5 1318.7,507.8 1313.0,522.0C1307.3,536.2 1303.0,550.3 1300.0,565.0C1297.0,579.7 1295.5,597.5 1295.0,610.0C1294.5,622.5 1295.3,630.8 1297.0,640.0C1298.7,649.2 1301.2,657.5 1305.0,665.0C1308.8,672.5 1315.2,679.8 1320.0,685.0C1324.8,690.2 1332.8,691.5 1334.0,696.0C1335.2,700.5 1327.7,705.5 1327.0,712.0C1326.3,718.5 1327.0,727.0 1330.0,735.0C1333.0,743.0 1337.5,751.7 1345.0,760.0C1352.5,768.3 1363.3,778.3 1375.0,785.0C1386.7,791.7 1400.0,796.0 1415.0,800.0C1430.0,804.0 1448.3,808.9 1465.2,808.9C1482.1,808.9 1501.2,804.0 1516.4,800.0C1531.6,796.0 1544.7,791.7 1556.4,785.0C1568.1,778.3 1578.9,768.3 1586.4,760.0C1593.9,751.7 1598.4,743.0 1601.4,735.0C1604.4,727.0 1605.1,718.5 1604.4,712.0C1603.7,705.5 1596.2,700.5 1597.4,696.0C1598.6,691.5 1606.6,690.2 1611.4,685.0C1616.2,679.8 1622.6,672.5 1626.4,665.0C1630.2,657.5 1632.7,649.2 1634.4,640.0C1636.1,630.8 1636.9,622.5 1636.4,610.0C1635.9,597.5 1634.4,579.7 1631.4,565.0C1628.4,550.3 1624.1,536.2 1618.4,522.0C1612.7,507.8 1606.2,492.5 1597.4,480.0C1588.6,467.5 1576.5,457.8 1565.8,446.8C1555.1,435.8 1544.0,422.2 1533.0,414.0C1522.1,405.8 1511.4,401.3 1500.3,397.6C1489.2,394.0 1477.9,392.1 1466.4,392.1Z" fill="#f4f0f3" filter="url(#fc3)"/>
<g clip-path="url(#kC)">
<ellipse cx="1465.7" cy="392" rx="60" ry="22" fill="#fbf9fb" filter="url(#fc6)"/>
<path d="M1408.4,422.8C1405.5,427.0 1397.5,439.6 1390.8,448.0C1384.1,456.4 1375.1,464.4 1368.1,473.2C1361.2,482.1 1354.3,491.3 1349.2,501.0C1344.2,510.6 1340.6,520.3 1337.9,531.2C1335.2,542.1 1334.5,556.2 1332.8,566.5C1331.2,576.8 1328.6,588.4 1327.8,592.8" fill="none" stroke="#d8cfd6" stroke-width="26" stroke-linecap="round" filter="url(#fc5)"/>
<path d="M1523.0,422.8C1525.9,427.0 1533.9,439.6 1540.6,448.0C1547.3,456.4 1556.3,464.4 1563.3,473.2C1570.2,482.1 1577.1,491.3 1582.2,501.0C1587.2,510.6 1590.8,520.3 1593.5,531.2C1596.2,542.1 1596.9,556.2 1598.6,566.5C1600.2,576.8 1602.8,588.4 1603.6,592.8" fill="none" stroke="#d8cfd6" stroke-width="26" stroke-linecap="round" filter="url(#fc5)"/>
<path d="M1416.0,406.5C1421.0,405.2 1435.3,407.5 1441.2,410.2C1447.1,413.0 1453.0,420.3 1451.3,422.8C1449.6,425.4 1437.8,426.2 1431.1,425.4C1424.4,424.5 1413.5,421.0 1411.0,417.8C1408.4,414.7 1411.0,407.7 1416.0,406.5Z" fill="#d9d1d7" filter="url(#fc3)"/>
<path d="M1515.4,406.5C1510.4,405.2 1496.1,407.5 1490.2,410.2C1484.3,413.0 1478.4,420.3 1480.1,422.8C1481.8,425.4 1493.6,426.2 1500.3,425.4C1507.0,424.5 1517.9,421.0 1520.4,417.8C1523.0,414.7 1520.4,407.7 1515.4,406.5Z" fill="#d9d1d7" filter="url(#fc3)"/>
<path d="M1385.8,480.8C1391.2,472.8 1405.9,458.5 1416.0,455.6C1426.1,452.7 1439.9,456.9 1446.2,463.2C1452.6,469.5 1456.3,484.6 1453.8,493.4C1451.3,502.2 1439.5,511.5 1431.1,516.1C1422.7,520.7 1411.4,523.2 1403.4,521.1C1395.4,519.0 1386.2,510.2 1383.2,503.5C1380.3,496.8 1380.3,488.8 1385.8,480.8Z" fill="#f6f3f5" filter="url(#fc5)"/>
<path d="M1545.6,480.8C1540.2,472.8 1525.5,458.5 1515.4,455.6C1505.3,452.7 1491.5,456.9 1485.2,463.2C1478.8,469.5 1475.1,484.6 1477.6,493.4C1480.1,502.2 1491.9,511.5 1500.3,516.1C1508.7,520.7 1520.0,523.2 1528.0,521.1C1536.0,519.0 1545.2,510.2 1548.2,503.5C1551.1,496.8 1551.1,488.8 1545.6,480.8Z" fill="#f6f3f5" filter="url(#fc5)"/>
<path d="M1382.0,483.3C1382.4,487.9 1380.5,504.5 1384.5,511.0C1388.5,517.6 1399.0,521.3 1405.9,522.4C1412.9,523.4 1422.7,518.2 1426.1,517.3" fill="none" stroke="#d5cdd3" stroke-width="5" filter="url(#fc3)"/>
<path d="M1549.4,483.3C1549.0,487.9 1550.9,504.5 1546.9,511.0C1542.9,517.6 1532.4,521.3 1525.5,522.4C1518.5,523.4 1508.7,518.2 1505.3,517.3" fill="none" stroke="#d5cdd3" stroke-width="5" filter="url(#fc3)"/>
<path d="M1451.3,410.2C1452.1,417.8 1454.7,440.9 1456.3,455.6C1458.0,470.3 1460.5,491.3 1461.4,498.4" fill="none" stroke="#e2dbe0" stroke-width="8" filter="url(#fc3)"/>
<path d="M1480.1,410.2C1479.3,417.8 1476.7,440.9 1475.1,455.6C1473.4,470.3 1470.9,491.3 1470.0,498.4" fill="none" stroke="#e2dbe0" stroke-width="8" filter="url(#fc3)"/>
<path d="M1301.3,580.2C1297.5,587.7 1295.2,620.1 1297.1,635.6C1298.9,651.1 1306.9,664.1 1312.7,673.4C1318.4,682.7 1323.2,689.5 1331.6,691.6C1340.0,693.7 1355.9,691.1 1363.1,686.0C1370.2,680.9 1373.6,667.5 1374.4,660.8C1375.3,654.1 1371.7,649.9 1368.1,645.7C1364.6,641.5 1357.6,640.6 1353.0,635.6C1348.4,630.6 1345.9,623.0 1340.4,615.4C1334.9,607.9 1326.8,596.1 1320.2,590.2C1313.7,584.4 1305.2,572.6 1301.3,580.2Z" fill="#ece6ea" filter="url(#fc3)"/>
<path d="M1630.1,580.2C1633.9,587.7 1636.2,620.1 1634.3,635.6C1632.5,651.1 1624.5,664.1 1618.7,673.4C1613.0,682.7 1608.2,689.5 1599.8,691.6C1591.4,693.7 1575.5,691.1 1568.3,686.0C1561.2,680.9 1557.8,667.5 1557.0,660.8C1556.1,654.1 1559.7,649.9 1563.3,645.7C1566.8,641.5 1573.8,640.6 1578.4,635.6C1583.0,630.6 1585.5,623.0 1591.0,615.4C1596.5,607.9 1604.6,596.1 1611.2,590.2C1617.7,584.4 1626.2,572.6 1630.1,580.2Z" fill="#ece6ea" filter="url(#fc3)"/>
<path d="M1317.7,602.8C1317.1,608.3 1312.7,625.5 1313.9,635.6C1315.2,645.7 1320.5,656.4 1325.3,663.3C1330.1,670.3 1336.8,675.9 1342.9,677.2C1349.0,678.4 1358.7,671.9 1361.8,670.9" fill="none" stroke="#d2c9d0" stroke-width="15" stroke-linecap="round" filter="url(#fc3)"/>
<path d="M1613.7,602.8C1614.3,608.3 1618.7,625.5 1617.5,635.6C1616.2,645.7 1610.9,656.4 1606.1,663.3C1601.3,670.3 1594.6,675.9 1588.5,677.2C1582.4,678.4 1572.7,671.9 1569.6,670.9" fill="none" stroke="#d2c9d0" stroke-width="15" stroke-linecap="round" filter="url(#fc3)"/>
<path d="M1340.4,625.5C1340.8,629.3 1340.4,642.3 1342.9,648.2C1345.4,654.1 1353.4,658.7 1355.5,660.8" fill="none" stroke="#f4f1f3" stroke-width="12" stroke-linecap="round" filter="url(#fc3)"/>
<path d="M1591.0,625.5C1590.6,629.3 1591.0,642.3 1588.5,648.2C1586.0,654.1 1578.0,658.7 1575.9,660.8" fill="none" stroke="#f4f1f3" stroke-width="12" stroke-linecap="round" filter="url(#fc3)"/>
<path d="M1465.7,612.0C1453.8,612.0 1441.8,613.3 1430.0,618.0C1418.2,622.7 1403.7,631.3 1395.0,640.0C1386.3,648.7 1381.8,660.0 1378.0,670.0C1374.2,680.0 1370.8,690.0 1372.0,700.0C1373.2,710.0 1377.0,722.5 1385.0,730.0C1393.0,737.5 1406.5,742.0 1420.0,745.0C1433.5,748.0 1450.5,748.0 1465.7,748.0C1480.9,748.0 1498.0,748.0 1511.4,745.0C1524.9,742.0 1538.4,737.5 1546.4,730.0C1554.4,722.5 1558.2,710.0 1559.4,700.0C1560.6,690.0 1557.2,680.0 1553.4,670.0C1549.6,660.0 1545.1,648.7 1536.4,640.0C1527.7,631.3 1513.2,622.7 1501.4,618.0C1489.6,613.3 1477.6,612.0 1465.7,612.0Z" fill="#e9e2e7" filter="url(#fc5)"/>
<path d="M1398.0,660.0C1400.8,665.0 1408.0,682.5 1415.0,690.0C1422.0,697.5 1435.8,702.5 1440.0,705.0" fill="none" stroke="#d9d0d7" stroke-width="10" stroke-linecap="round" filter="url(#fc5)"/>
<path d="M1533.4,660.0C1530.6,665.0 1523.4,682.5 1516.4,690.0C1509.4,697.5 1495.6,702.5 1491.4,705.0" fill="none" stroke="#d9d0d7" stroke-width="10" stroke-linecap="round" filter="url(#fc5)"/>
<ellipse cx="1465.7" cy="640" rx="40" ry="7" fill="#d9d1d7" filter="url(#fc5)"/>
<path d="M1465.7,722.0C1450.5,722.0 1434.3,735.0 1420.0,735.0C1405.7,735.0 1392.5,725.8 1380.0,722.0C1367.5,718.2 1353.7,712.0 1345.0,712.0C1336.3,712.0 1330.2,717.0 1328.0,722.0C1325.8,727.0 1328.3,734.8 1332.0,742.0C1335.7,749.2 1341.2,757.3 1350.0,765.0C1358.8,772.7 1372.5,782.2 1385.0,788.0C1397.5,793.8 1411.5,797.0 1425.0,800.0C1438.5,803.0 1452.1,806.0 1465.7,806.0C1479.3,806.0 1493.0,803.0 1506.4,800.0C1519.9,797.0 1533.9,793.8 1546.4,788.0C1558.9,782.2 1572.6,772.7 1581.4,765.0C1590.2,757.3 1595.7,749.2 1599.4,742.0C1603.1,734.8 1605.6,727.0 1603.4,722.0C1601.2,717.0 1595.1,712.0 1586.4,712.0C1577.7,712.0 1563.9,718.2 1551.4,722.0C1538.9,725.8 1525.7,735.0 1511.4,735.0C1497.1,735.0 1480.9,722.0 1465.7,722.0Z" fill="#efeaee" filter="url(#fc3)"/>
<path d="M1340.0,730.0C1345.0,733.0 1358.3,741.7 1370.0,748.0C1381.7,754.3 1397.5,761.0 1410.0,768.0C1422.5,775.0 1439.2,786.3 1445.0,790.0" fill="none" stroke="#e1dadf" stroke-width="7" filter="url(#fc3)"/>
<path d="M1591.4,730.0C1586.4,733.0 1573.1,741.7 1561.4,748.0C1549.7,754.3 1533.9,761.0 1521.4,768.0C1508.9,775.0 1492.2,786.3 1486.4,790.0" fill="none" stroke="#e1dadf" stroke-width="7" filter="url(#fc3)"/>
<path d="M1345.0,748.0C1350.0,751.3 1364.2,761.8 1375.0,768.0C1385.8,774.2 1404.2,782.2 1410.0,785.0" fill="none" stroke="#e4dde2" stroke-width="5" filter="url(#fc3)"/>
<path d="M1586.4,748.0C1581.4,751.3 1567.2,761.8 1556.4,768.0C1545.6,774.2 1527.2,782.2 1521.4,785.0" fill="none" stroke="#e4dde2" stroke-width="5" filter="url(#fc3)"/>
<ellipse cx="1465.7" cy="780" rx="30" ry="18" fill="#e0d8de" filter="url(#fc6)"/>
<path d="M1465.7,547.0C1462.3,544.5 1438.6,561.5 1432.0,565.0C1425.4,568.5 1406.4,578.8 1400.0,582.0C1393.6,585.2 1374.3,594.1 1368.0,597.0C1361.7,599.9 1338.6,609.1 1337.0,610.5C1335.4,611.9 1349.4,611.2 1352.0,611.0C1354.6,610.8 1361.8,607.2 1363.1,608.4C1364.3,609.6 1365.3,620.5 1364.6,623.0C1363.9,625.5 1356.2,631.3 1356.0,633.1C1355.9,634.9 1360.6,641.1 1363.1,641.1C1365.6,641.2 1376.4,636.1 1380.7,633.6C1385.0,631.1 1400.9,619.2 1405.9,615.9C1411.0,612.7 1425.2,603.4 1431.1,600.8C1437.1,598.2 1462.2,595.4 1465.7,590.0C1469.2,584.6 1469.1,549.5 1465.7,547.0Z" fill="#cbc1c9" filter="url(#fc2)"/>
<path d="M1465.7,547.0C1469.1,544.5 1492.8,561.5 1499.4,565.0C1506.0,568.5 1525.0,578.8 1531.4,582.0C1537.8,585.2 1557.1,594.1 1563.4,597.0C1569.7,599.9 1592.8,609.1 1594.4,610.5C1596.0,611.9 1582.0,611.2 1579.4,611.0C1576.8,610.8 1569.6,607.2 1568.3,608.4C1567.1,609.6 1566.1,620.5 1566.8,623.0C1567.5,625.5 1575.2,631.3 1575.4,633.1C1575.5,634.9 1570.8,641.1 1568.3,641.1C1565.8,641.2 1555.0,636.1 1550.7,633.6C1546.4,631.1 1530.5,619.2 1525.5,615.9C1520.4,612.7 1506.2,603.4 1500.3,600.8C1494.3,598.2 1469.2,595.4 1465.7,590.0C1462.2,584.6 1462.3,549.5 1465.7,547.0Z" fill="#cbc1c9" filter="url(#fc2)"/>
<path d="M1452.0,585.0C1446.7,588.0 1430.0,596.8 1420.0,603.0C1410.0,609.2 1399.5,617.5 1392.0,622.0C1384.5,626.5 1377.8,628.7 1375.0,630.0" fill="none" stroke="#d9d0d7" stroke-width="9" stroke-linecap="round" filter="url(#fc3)"/>
<path d="M1479.4,585.0C1484.7,588.0 1501.4,596.8 1511.4,603.0C1521.4,609.2 1531.9,617.5 1539.4,622.0C1546.9,626.5 1553.6,628.7 1556.4,630.0" fill="none" stroke="#d9d0d7" stroke-width="9" stroke-linecap="round" filter="url(#fc3)"/>
<path d="M1445.0,560.0C1437.5,563.9 1412.8,577.1 1400.0,583.5C1387.2,589.9 1378.2,593.9 1368.0,598.5C1357.8,603.1 1343.8,608.9 1339.0,611.0" fill="none" stroke="#b5a9b2" stroke-width="4" stroke-linecap="round" filter="url(#fc2)"/>
<path d="M1486.4,560.0C1493.9,563.9 1518.6,577.1 1531.4,583.5C1544.2,589.9 1553.2,593.9 1563.4,598.5C1573.6,603.1 1587.6,608.9 1592.4,611.0" fill="none" stroke="#b5a9b2" stroke-width="4" stroke-linecap="round" filter="url(#fc2)"/>
<path d="M1364.6,620.5C1363.4,622.4 1357.7,628.7 1357.5,631.8C1357.4,635.0 1362.6,638.1 1363.6,639.4" fill="none" stroke="#b0a4ad" stroke-width="3.5" stroke-linecap="round" filter="url(#fc2)"/>
<path d="M1566.8,620.5C1568.0,622.4 1573.7,628.7 1573.9,631.8C1574.0,635.0 1568.8,638.1 1567.8,639.4" fill="none" stroke="#b0a4ad" stroke-width="3.5" stroke-linecap="round" filter="url(#fc2)"/>
<path d="M1440.0,570.0C1436.7,573.7 1426.7,586.0 1420.0,592.0C1413.3,598.0 1403.3,603.7 1400.0,606.0" fill="none" stroke="#d8cfd6" stroke-width="10" stroke-linecap="round" filter="url(#fc5)"/>
<path d="M1491.4,570.0C1494.7,573.7 1504.7,586.0 1511.4,592.0C1518.1,598.0 1528.1,603.7 1531.4,606.0" fill="none" stroke="#d8cfd6" stroke-width="10" stroke-linecap="round" filter="url(#fc5)"/>
<path d="M1437.4,541.3C1438.1,542.6 1440.6,547.6 1441.2,548.9" fill="none" stroke="#b8adb5" stroke-width="5" stroke-linecap="round" filter="url(#fc2)"/>
<path d="M1494.0,541.3C1493.3,542.6 1490.8,547.6 1490.2,548.9" fill="none" stroke="#b8adb5" stroke-width="5" stroke-linecap="round" filter="url(#fc2)"/>
<linearGradient id="topfade" x1="0" y1="0" x2="0" y2="1"><stop offset="0" stop-color="#fff" stop-opacity=".9"/><stop offset=".45" stop-color="#fff" stop-opacity=".55"/><stop offset="1" stop-color="#fff" stop-opacity="0"/></linearGradient>
<rect x="1290" y="380" width="360" height="120" fill="url(#topfade)"/>
<path d="M1439.2,519.1C1435.3,522.2 1424.9,530.2 1416.0,537.5C1407.1,544.8 1396.1,554.2 1385.8,562.7C1375.5,571.2 1359.5,584.3 1354.3,588.7" fill="none" stroke="#f3a2c9" stroke-width="3.4" stroke-linecap="round" filter="url(#fc2)"/>
<path d="M1492.2,519.1C1496.1,522.2 1506.5,530.2 1515.4,537.5C1524.3,544.8 1535.3,554.2 1545.6,562.7C1555.9,571.2 1571.9,584.3 1577.1,588.7" fill="none" stroke="#f3a2c9" stroke-width="3.4" stroke-linecap="round" filter="url(#fc2)"/>
<path d="M1437.4,523.6C1434.7,526.0 1425.9,533.5 1421.0,537.5C1416.2,541.5 1410.5,545.9 1408.4,547.6" fill="none" stroke="#ee78b3" stroke-width="2.2" stroke-linecap="round" filter="url(#fc2)"/>
<path d="M1494.0,523.6C1496.7,526.0 1505.5,533.5 1510.4,537.5C1515.2,541.5 1520.9,545.9 1523.0,547.6" fill="none" stroke="#ee78b3" stroke-width="2.2" stroke-linecap="round" filter="url(#fc2)"/>
<path d="M1365.6,584.1C1368.1,585.2 1378.2,589.4 1380.7,590.4" fill="none" stroke="#f08fbf" stroke-width="3.5" stroke-linecap="round" filter="url(#fc2)"/>
<path d="M1565.8,584.1C1563.3,585.2 1553.2,589.4 1550.7,590.4" fill="none" stroke="#f08fbf" stroke-width="3.5" stroke-linecap="round" filter="url(#fc2)"/>
<path d="M1451.3,553.9C1449.6,554.3 1444.6,556.4 1441.2,556.4C1437.8,556.4 1432.8,554.3 1431.1,553.9" fill="none" stroke="#f5b5d3" stroke-width="3" stroke-linecap="round" filter="url(#fc2)"/>
<path d="M1480.1,553.9C1481.8,554.3 1486.8,556.4 1490.2,556.4C1493.6,556.4 1498.6,554.3 1500.3,553.9" fill="none" stroke="#f5b5d3" stroke-width="3" stroke-linecap="round" filter="url(#fc2)"/>
<path d="M1465.7,612 V745" stroke="#b3a6af" stroke-width="1.1" fill="none"/>
<path d="M1465.7,402 V475" stroke="#f7ecf2" stroke-width="5" fill="none" filter="url(#fc3)"/>
<path d="M1465.7,664 l4.5,11 l-4.5,-3 l-4.5,3 z" fill="#8f7f8b" filter="url(#fc1)"/>
<path d="M1436.0,688.0C1436.8,688.3 1438.3,693.2 1438.5,696.0C1438.7,698.8 1437.9,704.5 1437.0,705.0C1436.1,705.5 1434.1,700.3 1433.0,699.0C1431.9,697.7 1430.4,697.8 1430.5,697.0C1430.6,696.2 1432.6,695.5 1433.5,694.0C1434.4,692.5 1435.2,687.7 1436.0,688.0Z" fill="#8c7a88" filter="url(#fc1)"/>
<path d="M1495.4,688.0C1494.6,688.3 1493.1,693.2 1492.9,696.0C1492.7,698.8 1493.5,704.5 1494.4,705.0C1495.3,705.5 1497.3,700.3 1498.4,699.0C1499.5,697.7 1501.0,697.8 1500.9,697.0C1500.8,696.2 1498.8,695.5 1497.9,694.0C1497.0,692.5 1496.2,687.7 1495.4,688.0Z" fill="#8c7a88" filter="url(#fc1)"/>
<path d="M1380.7,746.4C1386.4,745.7 1405.2,744.8 1415.1,742.3C1425.0,739.8 1433.9,734.7 1440.1,731.4C1446.4,728.1 1448.4,724.5 1452.7,722.6C1456.9,720.7 1461.1,720.2 1465.8,720.1C1470.5,720.0 1476.5,720.1 1480.8,722.0C1485.1,723.9 1486.0,728.0 1491.8,731.4C1497.5,734.8 1505.6,739.7 1515.2,742.3C1524.9,744.9 1543.9,746.2 1549.6,747.0" fill="none" stroke="#f4a9cd" stroke-width="4" stroke-linecap="round" filter="url(#fc2)"/>
<path d="M1465.8,723.6 L1465.8,756.4" stroke="#f6b8d5" stroke-width="5" filter="url(#fc2)"/>
<ellipse cx="1465.5" cy="765.2" rx="12" ry="11" fill="#f7a8cf" filter="url(#fc3)"/>
<path d="M1465.5,762.2 q0,-5 5,-5 q3,0 2.5,5 q-1,6 -7.5,11 q-6.5,-5 -7.5,-11 q-.5,-5 2.5,-5 q5,0 5,5z" fill="#e6007e" filter="url(#fc1)"/>
<ellipse cx="1465.4" cy="500.5" rx="2.4" ry="3.4" fill="#e6007e" filter="url(#fc1)"/>
<ellipse cx="1465.7" cy="510" rx="1.5" ry="1.5" fill="#f08abb"/>
<ellipse cx="1465.4" cy="539.5" rx="7" ry="9" fill="#f7b0d2" filter="url(#fc3)"/>
<ellipse cx="1465.4" cy="539.5" rx="4.2" ry="6" fill="#e6007e" filter="url(#fc1)"/>
<path d="M1465.0,554.0 q9,6 7,18 q-2,10 -7,17 q-5,-7 -7,-17 q-2,-12 7,-18z" fill="#f27fb8" filter="url(#fc2)"/>
<ellipse cx="1465.0" cy="572.0" rx="2.3" ry="8" fill="#fbd3e6" filter="url(#fc1)"/>
</g></g>
<g stroke="#2e2e2e" stroke-width="2.8" fill="none" stroke-linecap="round" stroke-linejoin="miter"><path d="M817.8,156.8 H886.5"/><path d="M874.6,150.2 L887.4,156.8 L874.6,163.9"/></g>
<text class="pl" x="14" y="28.2">a</text>
<text class="pl" x="13" y="405.5">b</text>
<text class="pl" x="1305" y="405.2">c</text>
<text class="cap" x="66" y="316.3">Auto-fluorescence</text>
<text class="cap" x="497" y="316.3">Specific signal</text>
<text class="cap" x="954.5" y="316.3">CCFv3 template</text>
<text class="cap" x="1365" y="316.3">Annotations</text>
<text class="ann" x="611.5" y="220.5" style="fill:#fff;stroke:none">OV</text>
<text class="ann" x="1418" y="501">OV</text>
<text class="ann" x="1358.5" y="578">VL</text>
<text class="ann" x="1463.5" y="615.5">ARH</text>
<text class="ann" x="1483" y="787.5">AP</text>
<rect x="1349.4" y="827.7" width="22.6" height="22.6" fill="#e6007e"/>
<text class="dv" x="1381.5" y="852.6" style="font-size:28px;letter-spacing:0.25px;stroke:#000;stroke-width:0.3px">liraglutide<tspan dy="-7.8" dx="1" style="font-size:19.6px;letter-spacing:0">VT750</tspan></text>
<g id="chart">
<rect x="117.2" y="777.1" width="6.0" height="13.6" fill="#7ac943"/>
<rect x="135.9" y="776.7" width="4.8" height="14.0" fill="#7ac943"/>
<rect x="137.2" y="774.2" width="2.6" height="3.5" rx="1" fill="#7ac943"/>
<rect x="154.0" y="772.2" width="6.0" height="18.5" fill="#7ac943"/>
<rect x="155.9" y="767.0" width="2.6" height="6.2" rx="1" fill="#7ac943"/>
<rect x="171.7" y="773.2" width="6.0" height="17.5" fill="#7ac943"/>
<rect x="173.6" y="769.3" width="2.6" height="4.9" rx="1" fill="#7ac943"/>
<rect x="189.7" y="773.7" width="6.0" height="17.0" fill="#7ac943"/>
<rect x="191.6" y="772.2" width="2.6" height="2.5" rx="1" fill="#7ac943"/>
<rect x="207.5" y="771.7" width="6.0" height="19.0" fill="#7ac943"/>
<rect x="209.4" y="769.9" width="2.6" height="2.8" rx="1" fill="#7ac943"/>
<rect x="225.3" y="771.7" width="6.0" height="19.0" fill="#7ac943"/>
<rect x="227.2" y="769.3" width="2.6" height="3.4" rx="1" fill="#7ac943"/>
<rect x="243.2" y="774.7" width="6.0" height="16.0" fill="#7ac943"/>
<rect x="245.1" y="770.9" width="2.6" height="4.8" rx="1" fill="#7ac943"/>
<rect x="262.6" y="767.4" width="4.8" height="23.3" fill="#7ac943"/>
<rect x="263.9" y="765.5" width="2.6" height="2.9" rx="1" fill="#7ac943"/>
<rect x="280.9" y="776.7" width="6.0" height="14.0" fill="#7ac943"/>
<rect x="282.8" y="774.2" width="2.6" height="3.5" rx="1" fill="#7ac943"/>
<rect x="298.3" y="775.2" width="6.0" height="15.5" fill="#7ac943"/>
<rect x="300.2" y="773.7" width="2.6" height="2.5" rx="1" fill="#7ac943"/>
<rect x="316.3" y="775.2" width="6.0" height="15.5" fill="#7ac943"/>
<rect x="318.2" y="773.7" width="2.6" height="2.5" rx="1" fill="#7ac943"/>
<rect x="335.7" y="776.7" width="6.0" height="14.0" fill="#7dcaf5"/>
<rect x="337.6" y="774.2" width="2.6" height="3.5" rx="1" fill="#7dcaf5"/>
<rect x="353.8" y="773.7" width="6.0" height="17.0" fill="#7dcaf5"/>
<rect x="355.7" y="772.2" width="2.6" height="2.5" rx="1" fill="#7dcaf5"/>
<rect x="373.2" y="771.7" width="4.6" height="19.0" fill="#7dcaf5"/>
<rect x="374.4" y="769.3" width="2.6" height="3.4" rx="1" fill="#7dcaf5"/>
<rect x="391.2" y="770.3" width="5.6" height="20.4" fill="#7dcaf5"/>
<rect x="392.9" y="768.4" width="2.6" height="2.9" rx="1" fill="#7dcaf5"/>
<rect x="408.9" y="745.7" width="6.0" height="45.0" fill="#7dcaf5"/>
<rect x="410.8" y="737.7" width="2.6" height="9.0" rx="1" fill="#7dcaf5"/>
<text class="st" x="411.2" y="734.7">*</text>
<rect x="428.3" y="659.7" width="6.0" height="131.0" fill="#ff4b3b"/>
<rect x="430.2" y="623.7" width="2.6" height="37.0" rx="1" fill="#ff4b3b"/>
<text class="st" x="430.6" y="620.7">*</text>
<rect x="446.2" y="762.9" width="6.0" height="27.8" fill="#ff4b3b"/>
<rect x="448.1" y="760.4" width="2.6" height="3.5" rx="1" fill="#ff4b3b"/>
<text class="st" x="448.5" y="757.4">*</text>
<rect x="465.5" y="764.0" width="5.0" height="26.7" fill="#ff4b3b"/>
<rect x="466.9" y="760.4" width="2.6" height="4.6" rx="1" fill="#ff4b3b"/>
<rect x="483.8" y="769.5" width="6.0" height="21.2" fill="#ff4b3b"/>
<rect x="485.7" y="765.1" width="2.6" height="5.4" rx="1" fill="#ff4b3b"/>
<rect x="501.9" y="550" width="6.0" height="239.7" fill="#ff4b3b"/>
<rect x="501.9" y="518.5" width="6.0" height="6.1" fill="#ff4b3b"/>
<rect x="503.8" y="512.3" width="2.6" height="7.2" rx="1" fill="#ff4b3b"/>
<text class="st" x="504.2" y="507.8">*</text>
<rect x="519.3" y="761.5" width="6.0" height="29.2" fill="#ff4b3b"/>
<rect x="521.2" y="756.7" width="2.6" height="5.8" rx="1" fill="#ff4b3b"/>
<rect x="537.3" y="761.5" width="6.0" height="29.2" fill="#ff4b3b"/>
<rect x="539.2" y="754.1" width="2.6" height="8.4" rx="1" fill="#ff4b3b"/>
<rect x="555.2" y="720.8" width="6.0" height="69.9" fill="#ff4b3b"/>
<rect x="557.1" y="703.6" width="2.6" height="18.2" rx="1" fill="#ff4b3b"/>
<text class="st" x="557.5" y="700.6">*</text>
<rect x="573.1" y="766.6" width="6.0" height="24.1" fill="#ff4b3b"/>
<rect x="575.0" y="764.0" width="2.6" height="3.6" rx="1" fill="#ff4b3b"/>
<rect x="590.9" y="772.5" width="6.0" height="18.2" fill="#ff4b3b"/>
<rect x="592.8" y="770.7" width="2.6" height="2.8" rx="1" fill="#ff4b3b"/>
<rect x="610.0" y="726.3" width="5.0" height="64.4" fill="#ff4b3b"/>
<rect x="611.4" y="717.5" width="2.6" height="9.8" rx="1" fill="#ff4b3b"/>
<text class="st" x="611.8" y="714.5">*</text>
<rect x="628.5" y="745.7" width="6.0" height="45.0" fill="#ff4b3b"/>
<rect x="630.4" y="737.7" width="2.6" height="9.0" rx="1" fill="#ff4b3b"/>
<text class="st" x="630.8" y="734.7">*</text>
<rect x="646.3" y="733.7" width="6.0" height="57.0" fill="#ff4b3b"/>
<rect x="648.2" y="701.0" width="2.6" height="33.7" rx="1" fill="#ff4b3b"/>
<rect x="664.1" y="550" width="6.0" height="239.7" fill="#ff4b3b"/>
<rect x="664.1" y="498.3" width="6.0" height="26.3" fill="#ff4b3b"/>
<rect x="666.0" y="488.0" width="2.6" height="11.3" rx="1" fill="#ff4b3b"/>
<text class="st" x="666.4" y="485.0">*</text>
<rect x="682.0" y="550" width="6.0" height="239.7" fill="#ff4b3b"/>
<rect x="682.0" y="518.5" width="6.0" height="6.1" fill="#ff4b3b"/>
<rect x="683.9" y="513.0" width="2.6" height="6.5" rx="1" fill="#ff4b3b"/>
<text class="st" x="684.3" y="510.0">*</text>
<rect x="699.8" y="655.9" width="6.0" height="134.8" fill="#ff4b3b"/>
<rect x="701.7" y="616.3" width="2.6" height="40.6" rx="1" fill="#ff4b3b"/>
<text class="st" x="702.1" y="613.3">*</text>
<rect x="717.8" y="766.6" width="6.0" height="24.1" fill="#ff4b3b"/>
<rect x="719.7" y="762.9" width="2.6" height="4.7" rx="1" fill="#ff4b3b"/>
<rect x="735.7" y="768.4" width="6.0" height="22.3" fill="#ff4b3b"/>
<rect x="737.6" y="765.9" width="2.6" height="3.5" rx="1" fill="#ff4b3b"/>
<rect x="756.3" y="769.4" width="6.0" height="21.3" fill="#ff7b7f"/>
<rect x="758.2" y="768.7" width="2.6" height="1.7" rx="1" fill="#ff7b7f"/>
<rect x="774.2" y="769.4" width="6.0" height="21.3" fill="#ff7b7f"/>
<rect x="776.1" y="767.9" width="2.6" height="2.5" rx="1" fill="#ff7b7f"/>
<rect x="792.1" y="769.4" width="6.0" height="21.3" fill="#ff7b7f"/>
<rect x="794.0" y="767.9" width="2.6" height="2.5" rx="1" fill="#ff7b7f"/>
<rect x="810.0" y="770.9" width="6.0" height="19.8" fill="#ff7b7f"/>
<rect x="811.9" y="770.7" width="2.6" height="1.2" rx="1" fill="#ff7b7f"/>
<rect x="831.0" y="770.9" width="6.0" height="19.8" fill="#ff85ff"/>
<rect x="832.9" y="770.1" width="2.6" height="1.8" rx="1" fill="#ff85ff"/>
<rect x="849.3" y="770.9" width="5.4" height="19.8" fill="#ff85ff"/>
<rect x="850.9" y="769.0" width="2.6" height="2.9" rx="1" fill="#ff85ff"/>
<rect x="867.1" y="769.4" width="5.6" height="21.3" fill="#ff85ff"/>
<rect x="868.8" y="766.1" width="2.6" height="4.3" rx="1" fill="#ff85ff"/>
<rect x="884.9" y="765.7" width="6.0" height="25.0" fill="#ff85ff"/>
<rect x="886.8" y="761.3" width="2.6" height="5.4" rx="1" fill="#ff85ff"/>
<rect x="902.7" y="767.2" width="6.0" height="23.5" fill="#ff85ff"/>
<rect x="904.6" y="764.0" width="2.6" height="4.2" rx="1" fill="#ff85ff"/>
<rect x="920.4" y="765.7" width="6.0" height="25.0" fill="#ff85ff"/>
<rect x="922.3" y="761.8" width="2.6" height="4.9" rx="1" fill="#ff85ff"/>
<rect x="938.6" y="774.4" width="5.4" height="16.3" fill="#ff85ff"/>
<rect x="940.2" y="771.6" width="2.6" height="3.8" rx="1" fill="#ff85ff"/>
<rect x="957.7" y="772.2" width="4.4" height="18.5" fill="#ff85ff"/>
<rect x="958.8" y="769.4" width="2.6" height="3.8" rx="1" fill="#ff85ff"/>
<rect x="976.0" y="770.5" width="5.6" height="20.2" fill="#ff85ff"/>
<rect x="977.7" y="767.2" width="2.6" height="4.3" rx="1" fill="#ff85ff"/>
<rect x="995.1" y="772.7" width="6.0" height="18.0" fill="#ffa962"/>
<rect x="997.0" y="770.1" width="2.6" height="3.6" rx="1" fill="#ffa962"/>
<rect x="1013.0" y="770.9" width="6.0" height="19.8" fill="#ffa962"/>
<rect x="1014.9" y="769.0" width="2.6" height="2.9" rx="1" fill="#ffa962"/>
<rect x="1030.9" y="772.7" width="5.8" height="18.0" fill="#ffa962"/>
<rect x="1032.7" y="770.1" width="2.6" height="3.6" rx="1" fill="#ffa962"/>
<rect x="1050.3" y="767.2" width="4.4" height="23.5" fill="#ffa962"/>
<rect x="1051.4" y="765.0" width="2.6" height="3.2" rx="1" fill="#ffa962"/>
<rect x="1066.7" y="769.4" width="6.0" height="21.3" fill="#ffa962"/>
<rect x="1068.6" y="767.2" width="2.6" height="3.2" rx="1" fill="#ffa962"/>
<rect x="1086.2" y="774.4" width="4.2" height="16.3" fill="#ffa962"/>
<rect x="1087.2" y="772.2" width="2.6" height="3.2" rx="1" fill="#ffa962"/>
<rect x="1105.6" y="550" width="6.0" height="239.7" fill="#ffaad6"/>
<rect x="1105.6" y="436.8" width="6.0" height="87.8" fill="#ffaad6"/>
<rect x="1107.5" y="418.5" width="2.6" height="19.3" rx="1" fill="#ffaad6"/>
<text class="st" x="1107.9" y="415.5">*</text>
<rect x="1123.7" y="770.5" width="5.6" height="20.2" fill="#ffaad6"/>
<rect x="1125.4" y="766.7" width="2.6" height="4.8" rx="1" fill="#ffaad6"/>
<rect x="1141.7" y="732.0" width="5.6" height="58.7" fill="#ffaad6"/>
<rect x="1143.4" y="717.5" width="2.6" height="15.5" rx="1" fill="#ffaad6"/>
<text class="st" x="1143.8" y="714.5">*</text>
<rect x="1159.4" y="772.9" width="5.6" height="17.8" fill="#ffaad6"/>
<rect x="1161.1" y="769.5" width="2.6" height="4.4" rx="1" fill="#ffaad6"/>
<rect x="1178.6" y="777.7" width="4.4" height="13.0" fill="#ffaad6"/>
<rect x="1179.7" y="775.3" width="2.6" height="3.4" rx="1" fill="#ffaad6"/>
<rect x="1196.4" y="671.8" width="4.4" height="118.9" fill="#ffaad6"/>
<rect x="1197.5" y="646.3" width="2.6" height="26.5" rx="1" fill="#ffaad6"/>
<text class="st" x="1197.9" y="643.3">*</text>
<rect x="1216.5" y="634.3" width="5.6" height="156.4" fill="#a6a6a6"/>
<rect x="1218.2" y="605.9" width="2.6" height="29.4" rx="1" fill="#a6a6a6"/>
<text class="st" x="1218.6" y="602.9">*</text>
<rect x="1234.3" y="645.4" width="5.6" height="145.3" fill="#a6a6a6"/>
<rect x="1236.0" y="610.7" width="2.6" height="35.7" rx="1" fill="#a6a6a6"/>
<text class="st" x="1236.4" y="602.7">*</text>
<g fill="#000">
<rect x="109.7" y="789.05" width="1140.3" height="2.95"/>
<rect x="116.7" y="550" width="3.0" height="241.4"/>
<rect x="116.7" y="384.3" width="3.0" height="141.6"/>
<rect x="110" y="384.2" width="7" height="2.6"/>
<rect x="110" y="417.2" width="7" height="2.6"/>
<rect x="110" y="450.3" width="7" height="2.6"/>
<rect x="110" y="483.3" width="7" height="2.6"/>
<rect x="110" y="516.3" width="7" height="2.6"/>
<rect x="110" y="524.4" width="16.2" height="2.8"/>
<rect x="110" y="548.7" width="16.2" height="2.8"/>
<rect x="110" y="628.9" width="7" height="2.6"/>
<rect x="110" y="709.0" width="7" height="2.6"/>
<rect x="125.9" y="790" width="3.1" height="10.3"/>
<rect x="143.9" y="790" width="3.1" height="10.3"/>
<rect x="162.0" y="790" width="3.1" height="10.3"/>
<rect x="180.1" y="790" width="3.1" height="10.3"/>
<rect x="198.1" y="790" width="3.1" height="10.3"/>
<rect x="216.1" y="790" width="3.1" height="10.3"/>
<rect x="234.2" y="790" width="3.1" height="10.3"/>
<rect x="252.2" y="790" width="3.1" height="10.3"/>
<rect x="270.3" y="790" width="3.1" height="10.3"/>
<rect x="288.4" y="790" width="3.1" height="10.3"/>
<rect x="306.4" y="790" width="3.1" height="10.3"/>
<rect x="324.4" y="790" width="3.1" height="10.3"/>
<rect x="342.5" y="790" width="3.1" height="10.3"/>
<rect x="360.6" y="790" width="3.1" height="10.3"/>
<rect x="378.6" y="790" width="3.1" height="10.3"/>
<rect x="396.6" y="790" width="3.1" height="10.3"/>
<rect x="414.7" y="790" width="3.1" height="10.3"/>
<rect x="432.8" y="790" width="3.1" height="10.3"/>
<rect x="450.8" y="790" width="3.1" height="10.3"/>
<rect x="468.8" y="790" width="3.1" height="10.3"/>
<rect x="486.9" y="790" width="3.1" height="10.3"/>
<rect x="504.9" y="790" width="3.1" height="10.3"/>
<rect x="523.0" y="790" width="3.1" height="10.3"/>
<rect x="541.1" y="790" width="3.1" height="10.3"/>
<rect x="559.1" y="790" width="3.1" height="10.3"/>
<rect x="577.2" y="790" width="3.1" height="10.3"/>
<rect x="595.2" y="790" width="3.1" height="10.3"/>
<rect x="613.3" y="790" width="3.1" height="10.3"/>
<rect x="631.3" y="790" width="3.1" height="10.3"/>
<rect x="649.4" y="790" width="3.1" height="10.3"/>
<rect x="667.4" y="790" width="3.1" height="10.3"/>
<rect x="685.5" y="790" width="3.1" height="10.3"/>
<rect x="703.5" y="790" width="3.1" height="10.3"/>
<rect x="721.6" y="790" width="3.1" height="10.3"/>
<rect x="739.6" y="790" width="3.1" height="10.3"/>
<rect x="757.7" y="790" width="3.1" height="10.3"/>
<rect x="775.7" y="790" width="3.1" height="10.3"/>
<rect x="793.8" y="790" width="3.1" height="10.3"/>
<rect x="811.8" y="790" width="3.1" height="10.3"/>
<rect x="829.9" y="790" width="3.1" height="10.3"/>
<rect x="847.9" y="790" width="3.1" height="10.3"/>
<rect x="866.0" y="790" width="3.1" height="10.3"/>
<rect x="884.0" y="790" width="3.1" height="10.3"/>
<rect x="902.1" y="790" width="3.1" height="10.3"/>
<rect x="920.1" y="790" width="3.1" height="10.3"/>
<rect x="938.2" y="790" width="3.1" height="10.3"/>
<rect x="956.2" y="790" width="3.1" height="10.3"/>
<rect x="974.3" y="790" width="3.1" height="10.3"/>
<rect x="992.3" y="790" width="3.1" height="10.3"/>
<rect x="1010.4" y="790" width="3.1" height="10.3"/>
<rect x="1028.4" y="790" width="3.1" height="10.3"/>
<rect x="1046.5" y="790" width="3.1" height="10.3"/>
<rect x="1064.5" y="790" width="3.1" height="10.3"/>
<rect x="1082.6" y="790" width="3.1" height="10.3"/>
<rect x="1100.6" y="790" width="3.1" height="10.3"/>
<rect x="1118.7" y="790" width="3.1" height="10.3"/>
<rect x="1136.7" y="790" width="3.1" height="10.3"/>
<rect x="1154.8" y="790" width="3.1" height="10.3"/>
<rect x="1172.8" y="790" width="3.1" height="10.3"/>
<rect x="1190.9" y="790" width="3.1" height="10.3"/>
<rect x="1208.9" y="790" width="3.1" height="10.3"/>
<rect x="1227.0" y="790" width="3.1" height="10.3"/>
</g>
<text class="yt" x="104" y="392.3">100</text>
<text class="yt" x="104" y="425.3">80</text>
<text class="yt" x="104" y="458.4">60</text>
<text class="yt" x="104" y="491.4">40</text>
<text class="yt" x="104" y="524.4">20</text>
<text class="yt" x="104" y="556.8">15</text>
<text class="yt" x="104" y="637.0">10</text>
<text class="yt" x="104" y="717.1">5</text>
<text class="yt" x="104" y="797.3">0</text>
<text class="xl" transform="translate(131.9,811.0) rotate(-65)">AOB</text>
<text class="xl" transform="translate(150.0,811.0) rotate(-65)">AUDd</text>
<text class="xl" transform="translate(168.1,811.0) rotate(-65)">BLA</text>
<text class="xl" transform="translate(186.1,811.0) rotate(-65)">BMA</text>
<text class="xl" transform="translate(204.2,811.0) rotate(-65)">CA1</text>
<text class="xl" transform="translate(222.2,811.0) rotate(-65)">CA2</text>
<text class="xl" transform="translate(240.2,811.0) rotate(-65)">CA3</text>
<text class="xl" transform="translate(258.3,811.0) rotate(-65)">COA</text>
<text class="xl" transform="translate(276.4,811.0) rotate(-65)">DG</text>
<text class="xl" transform="translate(294.4,811.0) rotate(-65)">ECT</text>
<text class="xl" transform="translate(312.4,811.0) rotate(-65)">RHP</text>
<text class="xl" transform="translate(330.5,811.0) rotate(-65)">TTd</text>
<text class="xl" transform="translate(348.6,811.0) rotate(-65)">ACB</text>
<text class="xl" transform="translate(366.6,811.0) rotate(-65)">BST</text>
<text class="xl" transform="translate(384.7,811.0) rotate(-65)">CeA</text>
<text class="xl" transform="translate(402.7,811.0) rotate(-65)">LS</text>
<text class="xl" transform="translate(420.8,811.0) rotate(-65)">SF</text>
<text class="xl" transform="translate(438.8,811.0) rotate(-65)">ARH</text>
<text class="xl" transform="translate(456.9,811.0) rotate(-65)">DMH</text>
<text class="xl" transform="translate(474.9,811.0) rotate(-65)">LHA</text>
<text class="xl" transform="translate(492.9,811.0) rotate(-65)">LPO</text>
<text class="xl" transform="translate(511.0,811.0) rotate(-65)">ME</text>
<text class="xl" transform="translate(529.1,811.0) rotate(-65)">MEPO</text>
<text class="xl" transform="translate(547.1,811.0) rotate(-65)">MM</text>
<text class="xl" transform="translate(565.2,811.0) rotate(-65)">OV</text>
<text class="xl" transform="translate(583.2,811.0) rotate(-65)">PH</text>
<text class="xl" transform="translate(601.2,811.0) rotate(-65)">PSTN</text>
<text class="xl" transform="translate(619.3,811.0) rotate(-65)">PVH</text>
<text class="xl" transform="translate(637.4,811.0) rotate(-65)">PVp</text>
<text class="xl" transform="translate(655.4,811.0) rotate(-65)">SCH</text>
<text class="xl" transform="translate(673.5,811.0) rotate(-65)">SFO</text>
<text class="xl" transform="translate(691.5,811.0) rotate(-65)">SO</text>
<text class="xl" transform="translate(709.6,811.0) rotate(-65)">TU</text>
<text class="xl" transform="translate(727.6,811.0) rotate(-65)">VMH</text>
<text class="xl" transform="translate(745.7,811.0) rotate(-65)">ZI</text>
<text class="xl" transform="translate(763.7,811.0) rotate(-65)">GENd</text>
<text class="xl" transform="translate(781.8,811.0) rotate(-65)">LH</text>
<text class="xl" transform="translate(799.8,811.0) rotate(-65)">MH</text>
<text class="xl" transform="translate(817.9,811.0) rotate(-65)">MTN</text>
<text class="xl" transform="translate(835.9,811.0) rotate(-65)">DR</text>
<text class="xl" transform="translate(854.0,811.0) rotate(-65)">IC</text>
<text class="xl" transform="translate(872.0,811.0) rotate(-65)">MPT</text>
<text class="xl" transform="translate(890.1,811.0) rotate(-65)">MRN</text>
<text class="xl" transform="translate(908.1,811.0) rotate(-65)">PAG</text>
<text class="xl" transform="translate(926.2,811.0) rotate(-65)">SCm</text>
<text class="xl" transform="translate(944.2,811.0) rotate(-65)">SNc</text>
<text class="xl" transform="translate(962.3,811.0) rotate(-65)">SNr</text>
<text class="xl" transform="translate(980.3,811.0) rotate(-65)">VTA</text>
<text class="xl" transform="translate(998.4,811.0) rotate(-65)">LC</text>
<text class="xl" transform="translate(1016.4,811.0) rotate(-65)">NI</text>
<text class="xl" transform="translate(1034.5,811.0) rotate(-65)">NLL</text>
<text class="xl" transform="translate(1052.5,811.0) rotate(-65)">PB</text>
<text class="xl" transform="translate(1070.5,811.0) rotate(-65)">PCG</text>
<text class="xl" transform="translate(1088.6,811.0) rotate(-65)">PG</text>
<text class="xl" transform="translate(1106.7,811.0) rotate(-65)">AP</text>
<text class="xl" transform="translate(1124.7,811.0) rotate(-65)">CU</text>
<text class="xl" transform="translate(1142.8,811.0) rotate(-65)">DMX</text>
<text class="xl" transform="translate(1160.8,811.0) rotate(-65)">ECU</text>
<text class="xl" transform="translate(1178.9,811.0) rotate(-65)">LRNm</text>
<text class="xl" transform="translate(1196.9,811.0) rotate(-65)">NTS</text>
<text class="xl" transform="translate(1215.0,811.0) rotate(-65)">VL</text>
<text class="xl" transform="translate(1233.0,811.0) rotate(-65)">V4</text>
<text class="yl1" transform="translate(23.3,588) rotate(-90)">Fold change</text>
<text class="yl2" transform="translate(49,588.8) rotate(-90)">(VT750-liraglutide / vehicle)</text>
<rect x="144.2" y="384.4" width="38.6" height="14" fill="#7ac943"/>
<text class="lg" x="199.5" y="398.0" style="letter-spacing:1.20px">Cerebral cortex</text>
<rect x="144.2" y="412.1" width="38.6" height="14" fill="#7dcaf5"/>
<text class="lg" x="199.5" y="425.7" style="letter-spacing:1.20px">Cerebral nuclei</text>
<rect x="144.2" y="439.8" width="38.6" height="14" fill="#ff4b3b"/>
<text class="lg" x="199.5" y="453.4" style="letter-spacing:1.68px">Hypothalamus</text>
<rect x="144.2" y="467.5" width="38.6" height="14" fill="#ff7b7f"/>
<text class="lg" x="199.5" y="481.1" style="letter-spacing:1.55px">Thalamus</text>
<rect x="144.2" y="495.2" width="38.6" height="14" fill="#ff85ff"/>
<text class="lg" x="199.5" y="508.8" style="letter-spacing:1.30px">Midbrain</text>
<rect x="144.2" y="522.9" width="38.6" height="14" fill="#ffa962"/>
<text class="lg" x="199.5" y="536.5" style="letter-spacing:1.10px">Hindbrain</text>
<rect x="144.2" y="550.6" width="38.6" height="14" fill="#ffaad6"/>
<text class="lg" x="199.5" y="564.2" style="letter-spacing:1.35px">Medulla</text>
<rect x="144.2" y="578.3" width="38.6" height="14" fill="#a6a6a6"/>
<text class="lg" x="199.5" y="591.9" style="letter-spacing:1.65px">Ventricular system</text>
</g>
</svg></body></html>
